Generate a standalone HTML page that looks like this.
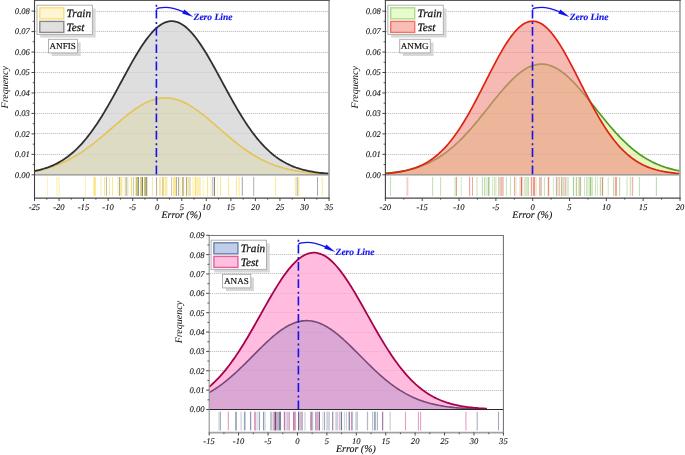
<!DOCTYPE html>
<html lang="en">
<head>
<meta charset="utf-8">
<title>Error distribution curves</title>
<style>
html,body{margin:0;padding:0;background:#fff;}
body{width:685px;height:455px;overflow:hidden;font-family:"Liberation Serif",serif;}
svg{display:block;will-change:transform;}
text{text-rendering:geometricPrecision;}
</style>
</head>
<body>
<svg width="685" height="455" viewBox="0 0 685 455">
<rect width="685" height="455" fill="#fff"/>
<g>
<line x1="35" y1="154.5" x2="329.05" y2="154.5" stroke="#ededed" stroke-width="1"/>
<line x1="35" y1="154.5" x2="329.05" y2="154.5" stroke="#c6c6c6" stroke-width="1" stroke-dasharray="1 1"/>
<line x1="35" y1="133.5" x2="329.05" y2="133.5" stroke="#ededed" stroke-width="1"/>
<line x1="35" y1="133.5" x2="329.05" y2="133.5" stroke="#c6c6c6" stroke-width="1" stroke-dasharray="1 1"/>
<line x1="35" y1="113.5" x2="329.05" y2="113.5" stroke="#ededed" stroke-width="1"/>
<line x1="35" y1="113.5" x2="329.05" y2="113.5" stroke="#c6c6c6" stroke-width="1" stroke-dasharray="1 1"/>
<line x1="35" y1="92.5" x2="329.05" y2="92.5" stroke="#ededed" stroke-width="1"/>
<line x1="35" y1="92.5" x2="329.05" y2="92.5" stroke="#c6c6c6" stroke-width="1" stroke-dasharray="1 1"/>
<line x1="35" y1="72.5" x2="329.05" y2="72.5" stroke="#ededed" stroke-width="1"/>
<line x1="35" y1="72.5" x2="329.05" y2="72.5" stroke="#c6c6c6" stroke-width="1" stroke-dasharray="1 1"/>
<line x1="35" y1="52.5" x2="329.05" y2="52.5" stroke="#ededed" stroke-width="1"/>
<line x1="35" y1="52.5" x2="329.05" y2="52.5" stroke="#c6c6c6" stroke-width="1" stroke-dasharray="1 1"/>
<line x1="35" y1="31.5" x2="329.05" y2="31.5" stroke="#ededed" stroke-width="1"/>
<line x1="35" y1="31.5" x2="329.05" y2="31.5" stroke="#c6c6c6" stroke-width="1" stroke-dasharray="1 1"/>
<line x1="35" y1="11.5" x2="329.05" y2="11.5" stroke="#ededed" stroke-width="1"/>
<line x1="35" y1="11.5" x2="329.05" y2="11.5" stroke="#c6c6c6" stroke-width="1" stroke-dasharray="1 1"/>
<path d="M34.5 174.8 L34.5 171.07 L36.34 170.68 L38.18 170.26 L40.02 169.8 L41.86 169.3 L43.7 168.76 L45.55 168.17 L47.39 167.54 L49.23 166.86 L51.07 166.12 L52.91 165.33 L54.75 164.49 L56.59 163.58 L58.43 162.61 L60.27 161.57 L62.11 160.46 L63.95 159.29 L65.8 158.03 L67.64 156.7 L69.48 155.29 L71.32 153.8 L73.16 152.23 L75 150.57 L76.84 148.82 L78.68 146.98 L80.52 145.05 L82.36 143.04 L84.21 140.93 L86.05 138.73 L87.89 136.43 L89.73 134.05 L91.57 131.58 L93.41 129.01 L95.25 126.36 L97.09 123.63 L98.93 120.81 L100.77 117.92 L102.61 114.95 L104.46 111.9 L106.3 108.8 L108.14 105.63 L109.98 102.4 L111.82 99.13 L113.66 95.82 L115.5 92.47 L117.34 89.09 L119.18 85.69 L121.02 82.29 L122.86 78.88 L124.71 75.48 L126.55 72.09 L128.39 68.73 L130.23 65.41 L132.07 62.14 L133.91 58.92 L135.75 55.77 L137.59 52.7 L139.43 49.72 L141.27 46.83 L143.12 44.06 L144.96 41.4 L146.8 38.87 L148.64 36.48 L150.48 34.23 L152.32 32.14 L154.16 30.21 L156 28.45 L157.84 26.87 L159.68 25.47 L161.52 24.26 L163.37 23.24 L165.21 22.42 L167.05 21.8 L168.89 21.39 L170.73 21.17 L172.57 21.17 L174.41 21.37 L176.25 21.77 L178.09 22.38 L179.93 23.18 L181.78 24.19 L183.62 25.39 L185.46 26.77 L187.3 28.34 L189.14 30.09 L190.98 32.01 L192.82 34.09 L194.66 36.32 L196.5 38.71 L198.34 41.23 L200.18 43.88 L202.03 46.64 L203.87 49.52 L205.71 52.5 L207.55 55.57 L209.39 58.71 L211.23 61.92 L213.07 65.19 L214.91 68.51 L216.75 71.87 L218.59 75.25 L220.43 78.65 L222.28 82.06 L224.12 85.47 L225.96 88.86 L227.8 92.24 L229.64 95.59 L231.48 98.91 L233.32 102.19 L235.16 105.41 L237 108.59 L238.84 111.7 L240.69 114.75 L242.53 117.72 L244.37 120.62 L246.21 123.44 L248.05 126.18 L249.89 128.84 L251.73 131.41 L253.57 133.89 L255.41 136.28 L257.25 138.58 L259.09 140.78 L260.94 142.9 L262.78 144.92 L264.62 146.86 L266.46 148.7 L268.3 150.45 L270.14 152.12 L271.98 153.7 L273.82 155.2 L275.66 156.61 L277.5 157.95 L279.34 159.2 L281.19 160.39 L283.03 161.5 L284.87 162.54 L286.71 163.52 L288.55 164.43 L290.39 165.28 L292.23 166.07 L294.07 166.81 L295.91 167.5 L297.75 168.13 L299.6 168.72 L301.44 169.26 L303.28 169.76 L305.12 170.23 L306.96 170.65 L308.8 171.04 L310.64 171.4 L312.48 171.73 L314.32 172.03 L316.16 172.31 L318 172.56 L319.85 172.78 L321.69 172.99 L323.53 173.18 L325.37 173.35 L327.21 173.5 L329.05 173.64 L329.05 174.8 Z" fill="rgba(211,211,211,0.75)" stroke="none"/>
<path d="M34.5 174.8 L34.5 170.93 L36.34 170.59 L38.18 170.23 L40.02 169.84 L41.86 169.43 L43.7 168.99 L45.55 168.52 L47.39 168.02 L49.23 167.49 L51.07 166.93 L52.91 166.33 L54.75 165.71 L56.59 165.04 L58.43 164.34 L60.27 163.6 L62.11 162.83 L63.95 162.01 L65.8 161.16 L67.64 160.27 L69.48 159.34 L71.32 158.36 L73.16 157.35 L75 156.29 L76.84 155.2 L78.68 154.06 L80.52 152.89 L82.36 151.67 L84.21 150.42 L86.05 149.13 L87.89 147.81 L89.73 146.44 L91.57 145.05 L93.41 143.62 L95.25 142.17 L97.09 140.68 L98.93 139.17 L100.77 137.64 L102.61 136.09 L104.46 134.52 L106.3 132.94 L108.14 131.35 L109.98 129.74 L111.82 128.14 L113.66 126.54 L115.5 124.93 L117.34 123.34 L119.18 121.76 L121.02 120.2 L122.86 118.65 L124.71 117.13 L126.55 115.64 L128.39 114.18 L130.23 112.76 L132.07 111.38 L133.91 110.05 L135.75 108.77 L137.59 107.54 L139.43 106.37 L141.27 105.26 L143.12 104.22 L144.96 103.25 L146.8 102.35 L148.64 101.52 L150.48 100.78 L152.32 100.11 L154.16 99.53 L156 99.03 L157.84 98.62 L159.68 98.3 L161.52 98.06 L163.37 97.92 L165.21 97.87 L167.05 97.91 L168.89 98.04 L170.73 98.26 L172.57 98.57 L174.41 98.97 L176.25 99.46 L178.09 100.03 L179.93 100.68 L181.78 101.42 L183.62 102.23 L185.46 103.12 L187.3 104.09 L189.14 105.12 L190.98 106.22 L192.82 107.38 L194.66 108.6 L196.5 109.88 L198.34 111.2 L200.18 112.58 L202.03 113.99 L203.87 115.44 L205.71 116.93 L207.55 118.45 L209.39 119.99 L211.23 121.55 L213.07 123.13 L214.91 124.72 L216.75 126.32 L218.59 127.93 L220.43 129.53 L222.28 131.13 L224.12 132.73 L225.96 134.31 L227.8 135.88 L229.64 137.44 L231.48 138.97 L233.32 140.48 L235.16 141.97 L237 143.43 L238.84 144.86 L240.69 146.26 L242.53 147.63 L244.37 148.96 L246.21 150.25 L248.05 151.51 L249.89 152.73 L251.73 153.91 L253.57 155.05 L255.41 156.15 L257.25 157.21 L259.09 158.23 L260.94 159.21 L262.78 160.15 L264.62 161.04 L266.46 161.9 L268.3 162.72 L270.14 163.5 L271.98 164.24 L273.82 164.95 L275.66 165.62 L277.5 166.25 L279.34 166.85 L281.19 167.42 L283.03 167.95 L284.87 168.46 L286.71 168.93 L288.55 169.37 L290.39 169.79 L292.23 170.18 L294.07 170.54 L295.91 170.88 L297.75 171.2 L299.6 171.5 L301.44 171.77 L303.28 172.03 L305.12 172.26 L306.96 172.48 L308.8 172.69 L310.64 172.87 L312.48 173.05 L314.32 173.21 L316.16 173.35 L318 173.49 L319.85 173.61 L321.69 173.72 L323.53 173.83 L325.37 173.92 L327.21 174.01 L329.05 174.09 L329.05 174.8 Z" fill="rgba(222,212,140,0.30)" stroke="none"/>
<path d="M34.5 170.93 L36.34 170.59 L38.18 170.23 L40.02 169.84 L41.86 169.43 L43.7 168.99 L45.55 168.52 L47.39 168.02 L49.23 167.49 L51.07 166.93 L52.91 166.33 L54.75 165.71 L56.59 165.04 L58.43 164.34 L60.27 163.6 L62.11 162.83 L63.95 162.01 L65.8 161.16 L67.64 160.27 L69.48 159.34 L71.32 158.36 L73.16 157.35 L75 156.29 L76.84 155.2 L78.68 154.06 L80.52 152.89 L82.36 151.67 L84.21 150.42 L86.05 149.13 L87.89 147.81 L89.73 146.44 L91.57 145.05 L93.41 143.62 L95.25 142.17 L97.09 140.68 L98.93 139.17 L100.77 137.64 L102.61 136.09 L104.46 134.52 L106.3 132.94 L108.14 131.35 L109.98 129.74 L111.82 128.14 L113.66 126.54 L115.5 124.93 L117.34 123.34 L119.18 121.76 L121.02 120.2 L122.86 118.65 L124.71 117.13 L126.55 115.64 L128.39 114.18 L130.23 112.76 L132.07 111.38 L133.91 110.05 L135.75 108.77 L137.59 107.54 L139.43 106.37 L141.27 105.26 L143.12 104.22 L144.96 103.25 L146.8 102.35 L148.64 101.52 L150.48 100.78 L152.32 100.11 L154.16 99.53 L156 99.03 L157.84 98.62 L159.68 98.3 L161.52 98.06 L163.37 97.92 L165.21 97.87 L167.05 97.91 L168.89 98.04 L170.73 98.26 L172.57 98.57 L174.41 98.97 L176.25 99.46 L178.09 100.03 L179.93 100.68 L181.78 101.42 L183.62 102.23 L185.46 103.12 L187.3 104.09 L189.14 105.12 L190.98 106.22 L192.82 107.38 L194.66 108.6 L196.5 109.88 L198.34 111.2 L200.18 112.58 L202.03 113.99 L203.87 115.44 L205.71 116.93 L207.55 118.45 L209.39 119.99 L211.23 121.55 L213.07 123.13 L214.91 124.72 L216.75 126.32 L218.59 127.93 L220.43 129.53 L222.28 131.13 L224.12 132.73 L225.96 134.31 L227.8 135.88 L229.64 137.44 L231.48 138.97 L233.32 140.48 L235.16 141.97 L237 143.43 L238.84 144.86 L240.69 146.26 L242.53 147.63 L244.37 148.96 L246.21 150.25 L248.05 151.51 L249.89 152.73 L251.73 153.91 L253.57 155.05 L255.41 156.15 L257.25 157.21 L259.09 158.23 L260.94 159.21 L262.78 160.15 L264.62 161.04 L266.46 161.9 L268.3 162.72 L270.14 163.5 L271.98 164.24 L273.82 164.95 L275.66 165.62 L277.5 166.25 L279.34 166.85 L281.19 167.42 L283.03 167.95 L284.87 168.46 L286.71 168.93 L288.55 169.37 L290.39 169.79 L292.23 170.18 L294.07 170.54 L295.91 170.88 L297.75 171.2 L299.6 171.5 L301.44 171.77 L303.28 172.03 L305.12 172.26 L306.96 172.48 L308.8 172.69 L310.64 172.87 L312.48 173.05 L314.32 173.21 L316.16 173.35 L318 173.49 L319.85 173.61 L321.69 173.72 L323.53 173.83 L325.37 173.92 L327.21 174.01 L329.05 174.09" fill="none" stroke="#e3c55a" stroke-width="1.7" stroke-linejoin="round"/>
<path d="M34.5 171.07 L36.34 170.68 L38.18 170.26 L40.02 169.8 L41.86 169.3 L43.7 168.76 L45.55 168.17 L47.39 167.54 L49.23 166.86 L51.07 166.12 L52.91 165.33 L54.75 164.49 L56.59 163.58 L58.43 162.61 L60.27 161.57 L62.11 160.46 L63.95 159.29 L65.8 158.03 L67.64 156.7 L69.48 155.29 L71.32 153.8 L73.16 152.23 L75 150.57 L76.84 148.82 L78.68 146.98 L80.52 145.05 L82.36 143.04 L84.21 140.93 L86.05 138.73 L87.89 136.43 L89.73 134.05 L91.57 131.58 L93.41 129.01 L95.25 126.36 L97.09 123.63 L98.93 120.81 L100.77 117.92 L102.61 114.95 L104.46 111.9 L106.3 108.8 L108.14 105.63 L109.98 102.4 L111.82 99.13 L113.66 95.82 L115.5 92.47 L117.34 89.09 L119.18 85.69 L121.02 82.29 L122.86 78.88 L124.71 75.48 L126.55 72.09 L128.39 68.73 L130.23 65.41 L132.07 62.14 L133.91 58.92 L135.75 55.77 L137.59 52.7 L139.43 49.72 L141.27 46.83 L143.12 44.06 L144.96 41.4 L146.8 38.87 L148.64 36.48 L150.48 34.23 L152.32 32.14 L154.16 30.21 L156 28.45 L157.84 26.87 L159.68 25.47 L161.52 24.26 L163.37 23.24 L165.21 22.42 L167.05 21.8 L168.89 21.39 L170.73 21.17 L172.57 21.17 L174.41 21.37 L176.25 21.77 L178.09 22.38 L179.93 23.18 L181.78 24.19 L183.62 25.39 L185.46 26.77 L187.3 28.34 L189.14 30.09 L190.98 32.01 L192.82 34.09 L194.66 36.32 L196.5 38.71 L198.34 41.23 L200.18 43.88 L202.03 46.64 L203.87 49.52 L205.71 52.5 L207.55 55.57 L209.39 58.71 L211.23 61.92 L213.07 65.19 L214.91 68.51 L216.75 71.87 L218.59 75.25 L220.43 78.65 L222.28 82.06 L224.12 85.47 L225.96 88.86 L227.8 92.24 L229.64 95.59 L231.48 98.91 L233.32 102.19 L235.16 105.41 L237 108.59 L238.84 111.7 L240.69 114.75 L242.53 117.72 L244.37 120.62 L246.21 123.44 L248.05 126.18 L249.89 128.84 L251.73 131.41 L253.57 133.89 L255.41 136.28 L257.25 138.58 L259.09 140.78 L260.94 142.9 L262.78 144.92 L264.62 146.86 L266.46 148.7 L268.3 150.45 L270.14 152.12 L271.98 153.7 L273.82 155.2 L275.66 156.61 L277.5 157.95 L279.34 159.2 L281.19 160.39 L283.03 161.5 L284.87 162.54 L286.71 163.52 L288.55 164.43 L290.39 165.28 L292.23 166.07 L294.07 166.81 L295.91 167.5 L297.75 168.13 L299.6 168.72 L301.44 169.26 L303.28 169.76 L305.12 170.23 L306.96 170.65 L308.8 171.04 L310.64 171.4 L312.48 171.73 L314.32 172.03 L316.16 172.31 L318 172.56 L319.85 172.78 L321.69 172.99 L323.53 173.18 L325.37 173.35 L327.21 173.5 L329.05 173.64" fill="none" stroke="#303030" stroke-width="1.8" stroke-linejoin="round"/>
<line x1="34.5" y1="174.8" x2="329.05" y2="174.8" stroke="#8c8c8c" stroke-width="1.3"/>
<line x1="47.5" y1="177" x2="47.5" y2="195.9" stroke="#fdf2bf" stroke-width="1.1" opacity="1"/>
<line x1="57" y1="177" x2="57" y2="195.9" stroke="#fdf2bf" stroke-width="1.4" opacity="1"/>
<line x1="59.2" y1="177" x2="59.2" y2="195.9" stroke="#fdf2bf" stroke-width="1.4" opacity="1"/>
<line x1="85.5" y1="177" x2="85.5" y2="195.9" stroke="#fdf2bf" stroke-width="1.1" opacity="1"/>
<line x1="94.6" y1="177" x2="94.6" y2="195.9" stroke="#fce88e" stroke-width="2.5" opacity="1"/>
<line x1="94.6" y1="177" x2="94.6" y2="195.9" stroke="#fbdf72" stroke-width="1.0" opacity="0.6"/>
<line x1="101" y1="177" x2="101" y2="195.9" stroke="#fdf2bf" stroke-width="1.5" opacity="1"/>
<line x1="104.5" y1="177" x2="104.5" y2="195.9" stroke="#fce88e" stroke-width="1.0" opacity="1"/>
<line x1="106.4" y1="177" x2="106.4" y2="195.9" stroke="#acacac" stroke-width="0.9" opacity="1"/>
<line x1="109.4" y1="177" x2="109.4" y2="195.9" stroke="#fce88e" stroke-width="1.0" opacity="1"/>
<line x1="112.5" y1="177" x2="112.5" y2="195.9" stroke="#fce88e" stroke-width="1.0" opacity="1"/>
<line x1="118" y1="177" x2="118" y2="195.9" stroke="#fdf2bf" stroke-width="1.5" opacity="1"/>
<line x1="119.5" y1="177" x2="119.5" y2="195.9" stroke="#a2a2a2" stroke-width="0.9" opacity="1"/>
<line x1="121.3" y1="177" x2="121.3" y2="195.9" stroke="#fce88e" stroke-width="2.3" opacity="1"/>
<line x1="124.6" y1="177" x2="124.6" y2="195.9" stroke="#fdf2bf" stroke-width="1.2" opacity="1"/>
<line x1="126.2" y1="177" x2="126.2" y2="195.9" stroke="#c6c6c6" stroke-width="1.8" opacity="1"/>
<line x1="127.8" y1="177" x2="127.8" y2="195.9" stroke="#e6e2b4" stroke-width="1.2" opacity="1"/>
<line x1="131.5" y1="177" x2="131.5" y2="195.9" stroke="#fbdf72" stroke-width="1.4" opacity="1"/>
<line x1="133.5" y1="177" x2="133.5" y2="195.9" stroke="#cacaca" stroke-width="1.1" opacity="1"/>
<line x1="136.8" y1="177" x2="136.8" y2="195.9" stroke="#cbc265" stroke-width="2.3" opacity="1"/>
<line x1="138.5" y1="177" x2="138.5" y2="195.9" stroke="#929292" stroke-width="1.0" opacity="1"/>
<line x1="140.9" y1="177" x2="140.9" y2="195.9" stroke="#dad292" stroke-width="1.8" opacity="1"/>
<line x1="142.4" y1="177" x2="142.4" y2="195.9" stroke="#8c8644" stroke-width="1.2" opacity="1"/>
<line x1="145.2" y1="177" x2="145.2" y2="195.9" stroke="#c0b868" stroke-width="2.0" opacity="1"/>
<line x1="146.4" y1="177" x2="146.4" y2="195.9" stroke="#8e8a58" stroke-width="0.9" opacity="1"/>
<line x1="146.9" y1="177" x2="146.9" y2="195.9" stroke="#9a9a9a" stroke-width="0.7" opacity="1"/>
<line x1="152.4" y1="177" x2="152.4" y2="195.9" stroke="#fce88e" stroke-width="1.0" opacity="1"/>
<line x1="156.6" y1="177" x2="156.6" y2="195.9" stroke="#a0a0a0" stroke-width="0.9" opacity="1"/>
<line x1="160" y1="177" x2="160" y2="195.9" stroke="#fce88e" stroke-width="1.7" opacity="1"/>
<line x1="162.9" y1="177" x2="162.9" y2="195.9" stroke="#d6ca84" stroke-width="1.6" opacity="1"/>
<line x1="166" y1="177" x2="166" y2="195.9" stroke="#fce88e" stroke-width="2.9" opacity="0.85"/>
<line x1="171.6" y1="177" x2="171.6" y2="195.9" stroke="#c4c4c4" stroke-width="1.0" opacity="1"/>
<line x1="174.5" y1="177" x2="174.5" y2="195.9" stroke="#fce88e" stroke-width="3.0" opacity="1"/>
<line x1="176.5" y1="177" x2="176.5" y2="195.9" stroke="#a4a4a4" stroke-width="0.9" opacity="1"/>
<line x1="178.5" y1="177" x2="178.5" y2="195.9" stroke="#a4a4a4" stroke-width="0.9" opacity="1"/>
<line x1="180" y1="177" x2="180" y2="195.9" stroke="#fdf2bf" stroke-width="1.8" opacity="1"/>
<line x1="182.6" y1="177" x2="182.6" y2="195.9" stroke="#ccc078" stroke-width="1.4" opacity="1"/>
<line x1="183.6" y1="177" x2="183.6" y2="195.9" stroke="#9c9c9c" stroke-width="0.6" opacity="1"/>
<line x1="186.5" y1="177" x2="186.5" y2="195.9" stroke="#b4ac78" stroke-width="1.0" opacity="1"/>
<line x1="188.2" y1="177" x2="188.2" y2="195.9" stroke="#fce88e" stroke-width="1.8" opacity="1"/>
<line x1="190" y1="177" x2="190" y2="195.9" stroke="#d2d2d2" stroke-width="1.4" opacity="1"/>
<line x1="193.1" y1="177" x2="193.1" y2="195.9" stroke="#fdf2bf" stroke-width="1.5" opacity="1"/>
<line x1="195.5" y1="177" x2="195.5" y2="195.9" stroke="#fbdf72" stroke-width="1.4" opacity="1"/>
<line x1="198.6" y1="177" x2="198.6" y2="195.9" stroke="#fdf2bf" stroke-width="4.6" opacity="1"/>
<line x1="197.2" y1="177" x2="197.2" y2="195.9" stroke="#fce88e" stroke-width="0.9" opacity="0.6"/>
<line x1="199.8" y1="177" x2="199.8" y2="195.9" stroke="#fce88e" stroke-width="0.9" opacity="0.6"/>
<line x1="203.2" y1="177" x2="203.2" y2="195.9" stroke="#fdf2bf" stroke-width="1.1" opacity="1"/>
<line x1="207.6" y1="177" x2="207.6" y2="195.9" stroke="#fce88e" stroke-width="1.2" opacity="1"/>
<line x1="211" y1="177" x2="211" y2="195.9" stroke="#fdf2bf" stroke-width="1.3" opacity="1"/>
<line x1="212.8" y1="177" x2="212.8" y2="195.9" stroke="#c6c6c6" stroke-width="1.4" opacity="1"/>
<line x1="214.5" y1="177" x2="214.5" y2="195.9" stroke="#7c7c7c" stroke-width="0.9" opacity="1"/>
<line x1="217.6" y1="177" x2="217.6" y2="195.9" stroke="#fdf2bf" stroke-width="1.1" opacity="1"/>
<line x1="220.5" y1="177" x2="220.5" y2="195.9" stroke="#fce88e" stroke-width="1.0" opacity="1"/>
<line x1="228.6" y1="177" x2="228.6" y2="195.9" stroke="#fce88e" stroke-width="1.0" opacity="1"/>
<line x1="236.4" y1="177" x2="236.4" y2="195.9" stroke="#fce88e" stroke-width="1.0" opacity="1"/>
<line x1="239.2" y1="177" x2="239.2" y2="195.9" stroke="#fce88e" stroke-width="1.0" opacity="1"/>
<line x1="242.3" y1="177" x2="242.3" y2="195.9" stroke="#9a9a9a" stroke-width="0.9" opacity="1"/>
<line x1="253.7" y1="177" x2="253.7" y2="195.9" stroke="#a8a8a8" stroke-width="0.9" opacity="1"/>
<line x1="275.6" y1="177" x2="275.6" y2="195.9" stroke="#fce88e" stroke-width="1.0" opacity="1"/>
<line x1="295.3" y1="177" x2="295.3" y2="195.9" stroke="#fce88e" stroke-width="1.0" opacity="1"/>
<line x1="297.2" y1="177" x2="297.2" y2="195.9" stroke="#a0a0a0" stroke-width="0.9" opacity="1"/>
<line x1="298.8" y1="177" x2="298.8" y2="195.9" stroke="#fce88e" stroke-width="1.3" opacity="1"/>
<line x1="317.5" y1="177" x2="317.5" y2="195.9" stroke="#a0a0a0" stroke-width="0.9" opacity="1"/>
<line x1="322.2" y1="177" x2="322.2" y2="195.9" stroke="#fce88e" stroke-width="1.0" opacity="1"/>
<line x1="156.4" y1="4.8" x2="156.4" y2="174.2" stroke="#1212ee" stroke-width="1.6" stroke-dasharray="2 2.9 8.8 3.6"/>
<path d="M156.4 9.2 C158 7.7 161.4 7.4 165.4 7.4 C171.4 7.4 177.4 9.4 183.6 11.8" fill="none" stroke="#1212ee" stroke-width="1.25"/>
<path d="M193.4 17.1 L184.3 9.5 L182.1 13.6 Z" fill="#1212ee"/>
<text x="193.6" y="19.5" font-family="'Liberation Serif','Times New Roman',serif" font-size="9.5" font-style="italic" font-weight="bold" fill="#1212ee" stroke="#1212ee" stroke-width="0.15">Zero Line</text>
<line x1="329.05" y1="0.5" x2="329.05" y2="198.6" stroke="#a4a4a4" stroke-width="1.7"/>
<line x1="34" y1="0.5" x2="329.9" y2="0.5" stroke="#5a5a5a" stroke-width="1.0"/>
<line x1="34.5" y1="-0.1" x2="34.5" y2="198.6" stroke="#404040" stroke-width="1.1"/>
<line x1="34" y1="198.1" x2="329.65" y2="198.1" stroke="#484848" stroke-width="1.2"/>
<line x1="31.5" y1="174.8" x2="34.5" y2="174.8" stroke="#333" stroke-width="0.9"/>
<text x="29.9" y="177.7" text-anchor="end" font-family="'Liberation Serif','Times New Roman',serif" font-size="8.6" font-style="italic" fill="#111" stroke="#111" stroke-width="0.1">0.00</text>
<line x1="32.7" y1="164.57" x2="34.5" y2="164.57" stroke="#333" stroke-width="0.8"/>
<line x1="31.5" y1="154.34" x2="34.5" y2="154.34" stroke="#333" stroke-width="0.9"/>
<text x="29.9" y="157.24" text-anchor="end" font-family="'Liberation Serif','Times New Roman',serif" font-size="8.6" font-style="italic" fill="#111" stroke="#111" stroke-width="0.1">0.01</text>
<line x1="32.7" y1="144.11" x2="34.5" y2="144.11" stroke="#333" stroke-width="0.8"/>
<line x1="31.5" y1="133.88" x2="34.5" y2="133.88" stroke="#333" stroke-width="0.9"/>
<text x="29.9" y="136.78" text-anchor="end" font-family="'Liberation Serif','Times New Roman',serif" font-size="8.6" font-style="italic" fill="#111" stroke="#111" stroke-width="0.1">0.02</text>
<line x1="32.7" y1="123.65" x2="34.5" y2="123.65" stroke="#333" stroke-width="0.8"/>
<line x1="31.5" y1="113.42" x2="34.5" y2="113.42" stroke="#333" stroke-width="0.9"/>
<text x="29.9" y="116.32" text-anchor="end" font-family="'Liberation Serif','Times New Roman',serif" font-size="8.6" font-style="italic" fill="#111" stroke="#111" stroke-width="0.1">0.03</text>
<line x1="32.7" y1="103.19" x2="34.5" y2="103.19" stroke="#333" stroke-width="0.8"/>
<line x1="31.5" y1="92.96" x2="34.5" y2="92.96" stroke="#333" stroke-width="0.9"/>
<text x="29.9" y="95.86" text-anchor="end" font-family="'Liberation Serif','Times New Roman',serif" font-size="8.6" font-style="italic" fill="#111" stroke="#111" stroke-width="0.1">0.04</text>
<line x1="32.7" y1="82.73" x2="34.5" y2="82.73" stroke="#333" stroke-width="0.8"/>
<line x1="31.5" y1="72.5" x2="34.5" y2="72.5" stroke="#333" stroke-width="0.9"/>
<text x="29.9" y="75.4" text-anchor="end" font-family="'Liberation Serif','Times New Roman',serif" font-size="8.6" font-style="italic" fill="#111" stroke="#111" stroke-width="0.1">0.05</text>
<line x1="32.7" y1="62.27" x2="34.5" y2="62.27" stroke="#333" stroke-width="0.8"/>
<line x1="31.5" y1="52.04" x2="34.5" y2="52.04" stroke="#333" stroke-width="0.9"/>
<text x="29.9" y="54.94" text-anchor="end" font-family="'Liberation Serif','Times New Roman',serif" font-size="8.6" font-style="italic" fill="#111" stroke="#111" stroke-width="0.1">0.06</text>
<line x1="32.7" y1="41.81" x2="34.5" y2="41.81" stroke="#333" stroke-width="0.8"/>
<line x1="31.5" y1="31.58" x2="34.5" y2="31.58" stroke="#333" stroke-width="0.9"/>
<text x="29.9" y="34.48" text-anchor="end" font-family="'Liberation Serif','Times New Roman',serif" font-size="8.6" font-style="italic" fill="#111" stroke="#111" stroke-width="0.1">0.07</text>
<line x1="32.7" y1="21.35" x2="34.5" y2="21.35" stroke="#333" stroke-width="0.8"/>
<line x1="31.5" y1="11.12" x2="34.5" y2="11.12" stroke="#333" stroke-width="0.9"/>
<text x="29.9" y="14.02" text-anchor="end" font-family="'Liberation Serif','Times New Roman',serif" font-size="8.6" font-style="italic" fill="#111" stroke="#111" stroke-width="0.1">0.08</text>
<line x1="34.5" y1="198.1" x2="34.5" y2="201" stroke="#333" stroke-width="0.9"/>
<text x="34.4" y="209.6" text-anchor="middle" font-family="'Liberation Serif','Times New Roman',serif" font-size="8.6" font-style="italic" fill="#111" stroke="#111" stroke-width="0.1">-25</text>
<line x1="46.77" y1="198.1" x2="46.77" y2="199.7" stroke="#333" stroke-width="0.8"/>
<line x1="59.05" y1="198.1" x2="59.05" y2="201" stroke="#333" stroke-width="0.9"/>
<text x="58.95" y="209.6" text-anchor="middle" font-family="'Liberation Serif','Times New Roman',serif" font-size="8.6" font-style="italic" fill="#111" stroke="#111" stroke-width="0.1">-20</text>
<line x1="71.32" y1="198.1" x2="71.32" y2="199.7" stroke="#333" stroke-width="0.8"/>
<line x1="83.59" y1="198.1" x2="83.59" y2="201" stroke="#333" stroke-width="0.9"/>
<text x="83.49" y="209.6" text-anchor="middle" font-family="'Liberation Serif','Times New Roman',serif" font-size="8.6" font-style="italic" fill="#111" stroke="#111" stroke-width="0.1">-15</text>
<line x1="95.86" y1="198.1" x2="95.86" y2="199.7" stroke="#333" stroke-width="0.8"/>
<line x1="108.14" y1="198.1" x2="108.14" y2="201" stroke="#333" stroke-width="0.9"/>
<text x="108.04" y="209.6" text-anchor="middle" font-family="'Liberation Serif','Times New Roman',serif" font-size="8.6" font-style="italic" fill="#111" stroke="#111" stroke-width="0.1">-10</text>
<line x1="120.41" y1="198.1" x2="120.41" y2="199.7" stroke="#333" stroke-width="0.8"/>
<line x1="132.68" y1="198.1" x2="132.68" y2="201" stroke="#333" stroke-width="0.9"/>
<text x="132.58" y="209.6" text-anchor="middle" font-family="'Liberation Serif','Times New Roman',serif" font-size="8.6" font-style="italic" fill="#111" stroke="#111" stroke-width="0.1">-5</text>
<line x1="144.96" y1="198.1" x2="144.96" y2="199.7" stroke="#333" stroke-width="0.8"/>
<line x1="157.23" y1="198.1" x2="157.23" y2="201" stroke="#333" stroke-width="0.9"/>
<text x="157.23" y="209.6" text-anchor="middle" font-family="'Liberation Serif','Times New Roman',serif" font-size="8.6" font-style="italic" fill="#111" stroke="#111" stroke-width="0.1">0</text>
<line x1="169.5" y1="198.1" x2="169.5" y2="199.7" stroke="#333" stroke-width="0.8"/>
<line x1="181.78" y1="198.1" x2="181.78" y2="201" stroke="#333" stroke-width="0.9"/>
<text x="181.78" y="209.6" text-anchor="middle" font-family="'Liberation Serif','Times New Roman',serif" font-size="8.6" font-style="italic" fill="#111" stroke="#111" stroke-width="0.1">5</text>
<line x1="194.05" y1="198.1" x2="194.05" y2="199.7" stroke="#333" stroke-width="0.8"/>
<line x1="206.32" y1="198.1" x2="206.32" y2="201" stroke="#333" stroke-width="0.9"/>
<text x="206.32" y="209.6" text-anchor="middle" font-family="'Liberation Serif','Times New Roman',serif" font-size="8.6" font-style="italic" fill="#111" stroke="#111" stroke-width="0.1">10</text>
<line x1="218.59" y1="198.1" x2="218.59" y2="199.7" stroke="#333" stroke-width="0.8"/>
<line x1="230.87" y1="198.1" x2="230.87" y2="201" stroke="#333" stroke-width="0.9"/>
<text x="230.87" y="209.6" text-anchor="middle" font-family="'Liberation Serif','Times New Roman',serif" font-size="8.6" font-style="italic" fill="#111" stroke="#111" stroke-width="0.1">15</text>
<line x1="243.14" y1="198.1" x2="243.14" y2="199.7" stroke="#333" stroke-width="0.8"/>
<line x1="255.41" y1="198.1" x2="255.41" y2="201" stroke="#333" stroke-width="0.9"/>
<text x="255.41" y="209.6" text-anchor="middle" font-family="'Liberation Serif','Times New Roman',serif" font-size="8.6" font-style="italic" fill="#111" stroke="#111" stroke-width="0.1">20</text>
<line x1="267.69" y1="198.1" x2="267.69" y2="199.7" stroke="#333" stroke-width="0.8"/>
<line x1="279.96" y1="198.1" x2="279.96" y2="201" stroke="#333" stroke-width="0.9"/>
<text x="279.96" y="209.6" text-anchor="middle" font-family="'Liberation Serif','Times New Roman',serif" font-size="8.6" font-style="italic" fill="#111" stroke="#111" stroke-width="0.1">25</text>
<line x1="292.23" y1="198.1" x2="292.23" y2="199.7" stroke="#333" stroke-width="0.8"/>
<line x1="304.5" y1="198.1" x2="304.5" y2="201" stroke="#333" stroke-width="0.9"/>
<text x="304.5" y="209.6" text-anchor="middle" font-family="'Liberation Serif','Times New Roman',serif" font-size="8.6" font-style="italic" fill="#111" stroke="#111" stroke-width="0.1">30</text>
<line x1="316.78" y1="198.1" x2="316.78" y2="199.7" stroke="#333" stroke-width="0.8"/>
<line x1="329.05" y1="198.1" x2="329.05" y2="201" stroke="#333" stroke-width="0.9"/>
<text x="329.05" y="209.6" text-anchor="middle" font-family="'Liberation Serif','Times New Roman',serif" font-size="8.6" font-style="italic" fill="#111" stroke="#111" stroke-width="0.1">35</text>
<text x="181.38" y="217.55" text-anchor="middle" font-family="'Liberation Serif','Times New Roman',serif" font-size="10" font-style="italic" fill="#111" stroke="#111" stroke-width="0.12">Error (%)</text>
<text transform="translate(7.5 87.25) rotate(-90)" text-anchor="middle" font-family="'Liberation Serif','Times New Roman',serif" font-size="10" font-style="italic" fill="#111">Frequency</text>
<path d="M92.4 8.4 h3.2 v29.2 h-55.4 v-3.2 h52.2 Z" fill="#d8d8d8"/>
<rect x="37" y="5.2" width="55.4" height="29.2" fill="rgba(255,255,255,0.78)" stroke="#a9a9a9" stroke-width="0.9"/>
<rect x="39.8" y="7.8" width="24.0" height="11.0" fill="#fdf4cf" fill-opacity="0.9" stroke="#fbdf78" stroke-width="1.4"/>
<rect x="39.8" y="21.4" width="24.0" height="11.0" fill="#dddddd" fill-opacity="0.9" stroke="#8a8a8a" stroke-width="1.4"/>
<text x="66.6" y="16.6" font-family="'Liberation Serif','Times New Roman',serif" font-size="11.3" font-style="italic" fill="#111" stroke="#111" stroke-width="0.25">Train</text>
<text x="66.6" y="30.5" font-family="'Liberation Serif','Times New Roman',serif" font-size="11.3" font-style="italic" fill="#111" stroke="#111" stroke-width="0.25">Test</text>
<path d="M77.5 42.5 h3.2 v13.6 h-29 v-3.2 h25.8 Z" fill="#d8d8d8"/>
<rect x="48.5" y="39.3" width="29" height="13.6" fill="rgba(255,255,255,0.8)" stroke="#a9a9a9" stroke-width="0.9"/>
<text x="62.7" y="49.4" text-anchor="middle" font-family="'Liberation Serif','Times New Roman',serif" font-size="9.1" fill="#111" stroke="#111" stroke-width="0.16">ANFIS</text>
</g>
<g>
<line x1="386" y1="154.5" x2="680" y2="154.5" stroke="#ededed" stroke-width="1"/>
<line x1="386" y1="154.5" x2="680" y2="154.5" stroke="#c6c6c6" stroke-width="1" stroke-dasharray="1 1"/>
<line x1="386" y1="133.5" x2="680" y2="133.5" stroke="#ededed" stroke-width="1"/>
<line x1="386" y1="133.5" x2="680" y2="133.5" stroke="#c6c6c6" stroke-width="1" stroke-dasharray="1 1"/>
<line x1="386" y1="113.5" x2="680" y2="113.5" stroke="#ededed" stroke-width="1"/>
<line x1="386" y1="113.5" x2="680" y2="113.5" stroke="#c6c6c6" stroke-width="1" stroke-dasharray="1 1"/>
<line x1="386" y1="92.5" x2="680" y2="92.5" stroke="#ededed" stroke-width="1"/>
<line x1="386" y1="92.5" x2="680" y2="92.5" stroke="#c6c6c6" stroke-width="1" stroke-dasharray="1 1"/>
<line x1="386" y1="72.5" x2="680" y2="72.5" stroke="#ededed" stroke-width="1"/>
<line x1="386" y1="72.5" x2="680" y2="72.5" stroke="#c6c6c6" stroke-width="1" stroke-dasharray="1 1"/>
<line x1="386" y1="52.5" x2="680" y2="52.5" stroke="#ededed" stroke-width="1"/>
<line x1="386" y1="52.5" x2="680" y2="52.5" stroke="#c6c6c6" stroke-width="1" stroke-dasharray="1 1"/>
<line x1="386" y1="31.5" x2="680" y2="31.5" stroke="#ededed" stroke-width="1"/>
<line x1="386" y1="31.5" x2="680" y2="31.5" stroke="#c6c6c6" stroke-width="1" stroke-dasharray="1 1"/>
<line x1="386" y1="11.5" x2="680" y2="11.5" stroke="#ededed" stroke-width="1"/>
<line x1="386" y1="11.5" x2="680" y2="11.5" stroke="#c6c6c6" stroke-width="1" stroke-dasharray="1 1"/>
<path d="M385.4 174.8 L385.4 173.26 L387.24 173.1 L389.08 172.92 L390.92 172.73 L392.76 172.52 L394.61 172.29 L396.45 172.04 L398.29 171.77 L400.13 171.48 L401.97 171.16 L403.81 170.82 L405.65 170.46 L407.5 170.06 L409.34 169.64 L411.18 169.18 L413.02 168.69 L414.86 168.16 L416.7 167.6 L418.54 167 L420.38 166.36 L422.22 165.68 L424.07 164.96 L425.91 164.19 L427.75 163.37 L429.59 162.51 L431.43 161.59 L433.27 160.63 L435.11 159.61 L436.95 158.54 L438.8 157.42 L440.64 156.23 L442.48 155 L444.32 153.7 L446.16 152.35 L448 150.93 L449.84 149.46 L451.68 147.93 L453.53 146.35 L455.37 144.7 L457.21 143 L459.05 141.24 L460.89 139.42 L462.73 137.55 L464.57 135.63 L466.41 133.66 L468.26 131.64 L470.1 129.57 L471.94 127.47 L473.78 125.32 L475.62 123.14 L477.46 120.92 L479.3 118.68 L481.14 116.41 L482.99 114.13 L484.83 111.83 L486.67 109.52 L488.51 107.2 L490.35 104.89 L492.19 102.58 L494.03 100.29 L495.88 98.01 L497.72 95.76 L499.56 93.54 L501.4 91.36 L503.24 89.22 L505.08 87.12 L506.92 85.09 L508.76 83.12 L510.6 81.21 L512.45 79.38 L514.29 77.63 L516.13 75.96 L517.97 74.38 L519.81 72.91 L521.65 71.53 L523.49 70.25 L525.34 69.09 L527.18 68.04 L529.02 67.11 L530.86 66.3 L532.7 65.62 L534.54 65.06 L536.38 64.63 L538.22 64.32 L540.06 64.15 L541.91 64.11 L543.75 64.21 L545.59 64.43 L547.43 64.78 L549.27 65.27 L551.11 65.88 L552.95 66.61 L554.79 67.47 L556.64 68.45 L558.48 69.54 L560.32 70.75 L562.16 72.07 L564 73.49 L565.84 75 L567.68 76.62 L569.52 78.32 L571.37 80.1 L573.21 81.96 L575.05 83.9 L576.89 85.9 L578.73 87.95 L580.57 90.07 L582.41 92.22 L584.25 94.42 L586.1 96.66 L587.94 98.92 L589.78 101.2 L591.62 103.5 L593.46 105.81 L595.3 108.13 L597.14 110.44 L598.99 112.75 L600.83 115.04 L602.67 117.32 L604.51 119.58 L606.35 121.81 L608.19 124.01 L610.03 126.18 L611.87 128.31 L613.71 130.4 L615.56 132.45 L617.4 134.45 L619.24 136.4 L621.08 138.3 L622.92 140.15 L624.76 141.95 L626.6 143.68 L628.44 145.36 L630.29 146.99 L632.13 148.55 L633.97 150.06 L635.81 151.51 L637.65 152.89 L639.49 154.23 L641.33 155.5 L643.17 156.71 L645.02 157.87 L646.86 158.98 L648.7 160.03 L650.54 161.02 L652.38 161.97 L654.22 162.86 L656.06 163.7 L657.9 164.5 L659.75 165.25 L661.59 165.96 L663.43 166.62 L665.27 167.25 L667.11 167.83 L668.95 168.38 L670.79 168.89 L672.63 169.37 L674.48 169.81 L676.32 170.22 L678.16 170.61 L680 170.96 L680 174.8 Z" fill="rgba(213,240,147,0.6)" stroke="none"/>
<path d="M385.4 173.26 L387.24 173.1 L389.08 172.92 L390.92 172.73 L392.76 172.52 L394.61 172.29 L396.45 172.04 L398.29 171.77 L400.13 171.48 L401.97 171.16 L403.81 170.82 L405.65 170.46 L407.5 170.06 L409.34 169.64 L411.18 169.18 L413.02 168.69 L414.86 168.16 L416.7 167.6 L418.54 167 L420.38 166.36 L422.22 165.68 L424.07 164.96 L425.91 164.19 L427.75 163.37 L429.59 162.51 L431.43 161.59 L433.27 160.63 L435.11 159.61 L436.95 158.54 L438.8 157.42 L440.64 156.23 L442.48 155 L444.32 153.7 L446.16 152.35 L448 150.93 L449.84 149.46 L451.68 147.93 L453.53 146.35 L455.37 144.7 L457.21 143 L459.05 141.24 L460.89 139.42 L462.73 137.55 L464.57 135.63 L466.41 133.66 L468.26 131.64 L470.1 129.57 L471.94 127.47 L473.78 125.32 L475.62 123.14 L477.46 120.92 L479.3 118.68 L481.14 116.41 L482.99 114.13 L484.83 111.83 L486.67 109.52 L488.51 107.2 L490.35 104.89 L492.19 102.58 L494.03 100.29 L495.88 98.01 L497.72 95.76 L499.56 93.54 L501.4 91.36 L503.24 89.22 L505.08 87.12 L506.92 85.09 L508.76 83.12 L510.6 81.21 L512.45 79.38 L514.29 77.63 L516.13 75.96 L517.97 74.38 L519.81 72.91 L521.65 71.53 L523.49 70.25 L525.34 69.09 L527.18 68.04 L529.02 67.11 L530.86 66.3 L532.7 65.62 L534.54 65.06 L536.38 64.63 L538.22 64.32 L540.06 64.15 L541.91 64.11 L543.75 64.21 L545.59 64.43 L547.43 64.78 L549.27 65.27 L551.11 65.88 L552.95 66.61 L554.79 67.47 L556.64 68.45 L558.48 69.54 L560.32 70.75 L562.16 72.07 L564 73.49 L565.84 75 L567.68 76.62 L569.52 78.32 L571.37 80.1 L573.21 81.96 L575.05 83.9 L576.89 85.9 L578.73 87.95 L580.57 90.07 L582.41 92.22 L584.25 94.42 L586.1 96.66 L587.94 98.92 L589.78 101.2 L591.62 103.5 L593.46 105.81 L595.3 108.13 L597.14 110.44 L598.99 112.75 L600.83 115.04 L602.67 117.32 L604.51 119.58 L606.35 121.81 L608.19 124.01 L610.03 126.18 L611.87 128.31 L613.71 130.4 L615.56 132.45 L617.4 134.45 L619.24 136.4 L621.08 138.3 L622.92 140.15 L624.76 141.95 L626.6 143.68 L628.44 145.36 L630.29 146.99 L632.13 148.55 L633.97 150.06 L635.81 151.51 L637.65 152.89 L639.49 154.23 L641.33 155.5 L643.17 156.71 L645.02 157.87 L646.86 158.98 L648.7 160.03 L650.54 161.02 L652.38 161.97 L654.22 162.86 L656.06 163.7 L657.9 164.5 L659.75 165.25 L661.59 165.96 L663.43 166.62 L665.27 167.25 L667.11 167.83 L668.95 168.38 L670.79 168.89 L672.63 169.37 L674.48 169.81 L676.32 170.22 L678.16 170.61 L680 170.96" fill="none" stroke="#509a26" stroke-width="1.7" stroke-linejoin="round"/>
<path d="M385.4 174.8 L385.4 173.64 L387.24 173.49 L389.08 173.32 L390.92 173.13 L392.76 172.93 L394.61 172.7 L396.45 172.44 L398.29 172.16 L400.13 171.86 L401.97 171.52 L403.81 171.14 L405.65 170.74 L407.5 170.29 L409.34 169.8 L411.18 169.26 L413.02 168.68 L414.86 168.05 L416.7 167.36 L418.54 166.62 L420.38 165.81 L422.22 164.94 L424.07 164.01 L425.91 163 L427.75 161.92 L429.59 160.76 L431.43 159.52 L433.27 158.19 L435.11 156.78 L436.95 155.27 L438.8 153.68 L440.64 151.99 L442.48 150.2 L444.32 148.31 L446.16 146.32 L448 144.22 L449.84 142.02 L451.68 139.72 L453.53 137.31 L455.37 134.8 L457.21 132.19 L459.05 129.47 L460.89 126.65 L462.73 123.74 L464.57 120.73 L466.41 117.64 L468.26 114.45 L470.1 111.19 L471.94 107.86 L473.78 104.45 L475.62 100.99 L477.46 97.47 L479.3 93.91 L481.14 90.32 L482.99 86.7 L484.83 83.06 L486.67 79.42 L488.51 75.79 L490.35 72.17 L492.19 68.59 L494.03 65.04 L495.88 61.56 L497.72 58.14 L499.56 54.8 L501.4 51.55 L503.24 48.41 L505.08 45.38 L506.92 42.49 L508.76 39.73 L510.6 37.13 L512.45 34.7 L514.29 32.43 L516.13 30.35 L517.97 28.47 L519.81 26.78 L521.65 25.31 L523.49 24.05 L525.34 23.01 L527.18 22.2 L529.02 21.61 L530.86 21.26 L532.7 21.15 L534.54 21.26 L536.38 21.61 L538.22 22.2 L540.06 23.01 L541.91 24.05 L543.75 25.31 L545.59 26.78 L547.43 28.47 L549.27 30.35 L551.11 32.43 L552.95 34.7 L554.79 37.13 L556.64 39.73 L558.48 42.49 L560.32 45.38 L562.16 48.41 L564 51.55 L565.84 54.8 L567.68 58.14 L569.52 61.56 L571.37 65.04 L573.21 68.59 L575.05 72.17 L576.89 75.79 L578.73 79.42 L580.57 83.06 L582.41 86.7 L584.25 90.32 L586.1 93.91 L587.94 97.47 L589.78 100.99 L591.62 104.45 L593.46 107.86 L595.3 111.19 L597.14 114.45 L598.99 117.64 L600.83 120.73 L602.67 123.74 L604.51 126.65 L606.35 129.47 L608.19 132.19 L610.03 134.8 L611.87 137.31 L613.71 139.72 L615.56 142.02 L617.4 144.22 L619.24 146.32 L621.08 148.31 L622.92 150.2 L624.76 151.99 L626.6 153.68 L628.44 155.27 L630.29 156.78 L632.13 158.19 L633.97 159.52 L635.81 160.76 L637.65 161.92 L639.49 163 L641.33 164.01 L643.17 164.94 L645.02 165.81 L646.86 166.62 L648.7 167.36 L650.54 168.05 L652.38 168.68 L654.22 169.26 L656.06 169.8 L657.9 170.29 L659.75 170.74 L661.59 171.14 L663.43 171.52 L665.27 171.86 L667.11 172.16 L668.95 172.44 L670.79 172.7 L672.63 172.93 L674.48 173.13 L676.32 173.32 L678.16 173.49 L680 173.64 L680 174.8 Z" fill="rgba(242,138,130,0.6)" stroke="none"/>
<path d="M385.4 173.64 L387.24 173.49 L389.08 173.32 L390.92 173.13 L392.76 172.93 L394.61 172.7 L396.45 172.44 L398.29 172.16 L400.13 171.86 L401.97 171.52 L403.81 171.14 L405.65 170.74 L407.5 170.29 L409.34 169.8 L411.18 169.26 L413.02 168.68 L414.86 168.05 L416.7 167.36 L418.54 166.62 L420.38 165.81 L422.22 164.94 L424.07 164.01 L425.91 163 L427.75 161.92 L429.59 160.76 L431.43 159.52 L433.27 158.19 L435.11 156.78 L436.95 155.27 L438.8 153.68 L440.64 151.99 L442.48 150.2 L444.32 148.31 L446.16 146.32 L448 144.22 L449.84 142.02 L451.68 139.72 L453.53 137.31 L455.37 134.8 L457.21 132.19 L459.05 129.47 L460.89 126.65 L462.73 123.74 L464.57 120.73 L466.41 117.64 L468.26 114.45 L470.1 111.19 L471.94 107.86 L473.78 104.45 L475.62 100.99 L477.46 97.47 L479.3 93.91 L481.14 90.32 L482.99 86.7 L484.83 83.06 L486.67 79.42 L488.51 75.79 L490.35 72.17 L492.19 68.59 L494.03 65.04 L495.88 61.56 L497.72 58.14 L499.56 54.8 L501.4 51.55 L503.24 48.41 L505.08 45.38 L506.92 42.49 L508.76 39.73 L510.6 37.13 L512.45 34.7 L514.29 32.43 L516.13 30.35 L517.97 28.47 L519.81 26.78 L521.65 25.31 L523.49 24.05 L525.34 23.01 L527.18 22.2 L529.02 21.61 L530.86 21.26 L532.7 21.15 L534.54 21.26 L536.38 21.61 L538.22 22.2 L540.06 23.01 L541.91 24.05 L543.75 25.31 L545.59 26.78 L547.43 28.47 L549.27 30.35 L551.11 32.43 L552.95 34.7 L554.79 37.13 L556.64 39.73 L558.48 42.49 L560.32 45.38 L562.16 48.41 L564 51.55 L565.84 54.8 L567.68 58.14 L569.52 61.56 L571.37 65.04 L573.21 68.59 L575.05 72.17 L576.89 75.79 L578.73 79.42 L580.57 83.06 L582.41 86.7 L584.25 90.32 L586.1 93.91 L587.94 97.47 L589.78 100.99 L591.62 104.45 L593.46 107.86 L595.3 111.19 L597.14 114.45 L598.99 117.64 L600.83 120.73 L602.67 123.74 L604.51 126.65 L606.35 129.47 L608.19 132.19 L610.03 134.8 L611.87 137.31 L613.71 139.72 L615.56 142.02 L617.4 144.22 L619.24 146.32 L621.08 148.31 L622.92 150.2 L624.76 151.99 L626.6 153.68 L628.44 155.27 L630.29 156.78 L632.13 158.19 L633.97 159.52 L635.81 160.76 L637.65 161.92 L639.49 163 L641.33 164.01 L643.17 164.94 L645.02 165.81 L646.86 166.62 L648.7 167.36 L650.54 168.05 L652.38 168.68 L654.22 169.26 L656.06 169.8 L657.9 170.29 L659.75 170.74 L661.59 171.14 L663.43 171.52 L665.27 171.86 L667.11 172.16 L668.95 172.44 L670.79 172.7 L672.63 172.93 L674.48 173.13 L676.32 173.32 L678.16 173.49 L680 173.64" fill="none" stroke="#de2410" stroke-width="1.7" stroke-linejoin="round"/>
<line x1="385.4" y1="174.8" x2="680" y2="174.8" stroke="#8c8c8c" stroke-width="1.3"/>
<line x1="390.5" y1="177" x2="390.5" y2="195.9" stroke="#c6e0b6" stroke-width="1.1" opacity="1"/>
<line x1="407.4" y1="177" x2="407.4" y2="195.9" stroke="#f8ccc4" stroke-width="1.9" opacity="1"/>
<line x1="432.6" y1="177" x2="432.6" y2="195.9" stroke="#c8e0b8" stroke-width="1.1" opacity="1"/>
<line x1="440.6" y1="177" x2="440.6" y2="195.9" stroke="#c8e0b8" stroke-width="1.1" opacity="1"/>
<line x1="455" y1="177" x2="455" y2="195.9" stroke="#dcefd0" stroke-width="1.7" opacity="1"/>
<line x1="456.4" y1="177" x2="456.4" y2="195.9" stroke="#e0a284" stroke-width="1.1" opacity="1"/>
<line x1="461.3" y1="177" x2="461.3" y2="195.9" stroke="#dcefd0" stroke-width="1.4" opacity="1"/>
<line x1="469.6" y1="177" x2="469.6" y2="195.9" stroke="#f0a292" stroke-width="1.1" opacity="1"/>
<line x1="472.5" y1="177" x2="472.5" y2="195.9" stroke="#f2aa9c" stroke-width="1.1" opacity="1"/>
<line x1="477" y1="177" x2="477" y2="195.9" stroke="#e0f0d6" stroke-width="1.9" opacity="1"/>
<line x1="482.4" y1="177" x2="482.4" y2="195.9" stroke="#c4dfb4" stroke-width="1.1" opacity="1"/>
<line x1="484.5" y1="177" x2="484.5" y2="195.9" stroke="#c4dfb4" stroke-width="1.1" opacity="1"/>
<line x1="486.4" y1="177" x2="486.4" y2="195.9" stroke="#e2f0da" stroke-width="2.4" opacity="1"/>
<line x1="488.7" y1="177" x2="488.7" y2="195.9" stroke="#a4cc8c" stroke-width="1.6" opacity="1"/>
<line x1="492.6" y1="177" x2="492.6" y2="195.9" stroke="#d4e8c8" stroke-width="1.0" opacity="1"/>
<line x1="494.8" y1="177" x2="494.8" y2="195.9" stroke="#cfe4c0" stroke-width="1.7" opacity="1"/>
<line x1="496.2" y1="177" x2="496.2" y2="195.9" stroke="#e6f2e0" stroke-width="1.2" opacity="1"/>
<line x1="498.5" y1="177" x2="498.5" y2="195.9" stroke="#c4dfb4" stroke-width="1.0" opacity="1"/>
<line x1="500.1" y1="177" x2="500.1" y2="195.9" stroke="#f6c8c0" stroke-width="1.9" opacity="1"/>
<line x1="501.5" y1="177" x2="501.5" y2="195.9" stroke="#d8b090" stroke-width="0.8" opacity="1"/>
<line x1="502.9" y1="177" x2="502.9" y2="195.9" stroke="#f4c4bc" stroke-width="1.9" opacity="1"/>
<line x1="506.4" y1="177" x2="506.4" y2="195.9" stroke="#c8e0b8" stroke-width="1.0" opacity="1"/>
<line x1="510.5" y1="177" x2="510.5" y2="195.9" stroke="#cce2bc" stroke-width="1.1" opacity="1"/>
<line x1="514.5" y1="177" x2="514.5" y2="195.9" stroke="#f2a898" stroke-width="1.1" opacity="1"/>
<line x1="515.9" y1="177" x2="515.9" y2="195.9" stroke="#e2f0da" stroke-width="1.6" opacity="1"/>
<line x1="519.8" y1="177" x2="519.8" y2="195.9" stroke="#e4f0dc" stroke-width="1.5" opacity="1"/>
<line x1="521.5" y1="177" x2="521.5" y2="195.9" stroke="#e86a58" stroke-width="1.4" opacity="1"/>
<line x1="522.5" y1="177" x2="522.5" y2="195.9" stroke="#f8d8d2" stroke-width="0.9" opacity="1"/>
<line x1="526.2" y1="177" x2="526.2" y2="195.9" stroke="#d8e9cc" stroke-width="5.0" opacity="1"/>
<line x1="528.4" y1="177" x2="528.4" y2="195.9" stroke="#c6ddb6" stroke-width="1.2" opacity="1"/>
<line x1="531.4" y1="177" x2="531.4" y2="195.9" stroke="#f0a090" stroke-width="1.3" opacity="1"/>
<line x1="533.9" y1="177" x2="533.9" y2="195.9" stroke="#f09888" stroke-width="2.2" opacity="1"/>
<line x1="536" y1="177" x2="536" y2="195.9" stroke="#e4f0dc" stroke-width="1.9" opacity="1"/>
<line x1="539.5" y1="177" x2="539.5" y2="195.9" stroke="#f4b4a8" stroke-width="1.0" opacity="1"/>
<line x1="540.5" y1="177" x2="540.5" y2="195.9" stroke="#d0d4b0" stroke-width="1.0" opacity="1"/>
<line x1="541.5" y1="177" x2="541.5" y2="195.9" stroke="#f6c0b6" stroke-width="1.0" opacity="1"/>
<line x1="544.5" y1="177" x2="544.5" y2="195.9" stroke="#cce2bc" stroke-width="1.2" opacity="1"/>
<line x1="548.5" y1="177" x2="548.5" y2="195.9" stroke="#ec8a78" stroke-width="1.4" opacity="1"/>
<line x1="553.4" y1="177" x2="553.4" y2="195.9" stroke="#d8eacc" stroke-width="1.1" opacity="1"/>
<line x1="556.5" y1="177" x2="556.5" y2="195.9" stroke="#dcae90" stroke-width="1.2" opacity="1"/>
<line x1="558" y1="177" x2="558" y2="195.9" stroke="#d8e8cc" stroke-width="1.7" opacity="1"/>
<line x1="559.5" y1="177" x2="559.5" y2="195.9" stroke="#f6c0b6" stroke-width="1.1" opacity="1"/>
<line x1="561.5" y1="177" x2="561.5" y2="195.9" stroke="#c8bc90" stroke-width="1.1" opacity="1"/>
<line x1="562.5" y1="177" x2="562.5" y2="195.9" stroke="#f8d8d0" stroke-width="1.0" opacity="1"/>
<line x1="563.8" y1="177" x2="563.8" y2="195.9" stroke="#cce2bc" stroke-width="1.7" opacity="1"/>
<line x1="565.5" y1="177" x2="565.5" y2="195.9" stroke="#f4b8ac" stroke-width="1.2" opacity="1"/>
<line x1="567.6" y1="177" x2="567.6" y2="195.9" stroke="#dcecd2" stroke-width="2.9" opacity="1"/>
<line x1="573.5" y1="177" x2="573.5" y2="195.9" stroke="#a8d090" stroke-width="1.2" opacity="1"/>
<line x1="576.4" y1="177" x2="576.4" y2="195.9" stroke="#b0d498" stroke-width="1.2" opacity="1"/>
<line x1="578.4" y1="177" x2="578.4" y2="195.9" stroke="#d4e8c8" stroke-width="1.1" opacity="1"/>
<line x1="579.6" y1="177" x2="579.6" y2="195.9" stroke="#f4c0b4" stroke-width="1.1" opacity="1"/>
<line x1="580.6" y1="177" x2="580.6" y2="195.9" stroke="#a8c080" stroke-width="1.0" opacity="1"/>
<line x1="584.5" y1="177" x2="584.5" y2="195.9" stroke="#d0e6c2" stroke-width="1.0" opacity="1"/>
<line x1="586.6" y1="177" x2="586.6" y2="195.9" stroke="#cce2bc" stroke-width="1.2" opacity="1"/>
<line x1="588.5" y1="177" x2="588.5" y2="195.9" stroke="#e0eed8" stroke-width="2.7" opacity="1"/>
<line x1="590.5" y1="177" x2="590.5" y2="195.9" stroke="#9cc880" stroke-width="1.3" opacity="1"/>
<line x1="592.1" y1="177" x2="592.1" y2="195.9" stroke="#d4e8c8" stroke-width="1.9" opacity="1"/>
<line x1="595.5" y1="177" x2="595.5" y2="195.9" stroke="#cce2bc" stroke-width="1.1" opacity="1"/>
<line x1="597.5" y1="177" x2="597.5" y2="195.9" stroke="#d8eacc" stroke-width="1.0" opacity="1"/>
<line x1="600.4" y1="177" x2="600.4" y2="195.9" stroke="#c0dcae" stroke-width="1.2" opacity="1"/>
<line x1="602.5" y1="177" x2="602.5" y2="195.9" stroke="#c8a070" stroke-width="1.3" opacity="1"/>
<line x1="608.3" y1="177" x2="608.3" y2="195.9" stroke="#d8eacc" stroke-width="1.2" opacity="1"/>
<line x1="613.6" y1="177" x2="613.6" y2="195.9" stroke="#c4deb2" stroke-width="1.2" opacity="1"/>
<line x1="616" y1="177" x2="616" y2="195.9" stroke="#f2a898" stroke-width="2.1" opacity="1"/>
<line x1="619.6" y1="177" x2="619.6" y2="195.9" stroke="#c4deb2" stroke-width="1.2" opacity="1"/>
<line x1="627" y1="177" x2="627" y2="195.9" stroke="#e4f0dc" stroke-width="1.9" opacity="1"/>
<line x1="630.4" y1="177" x2="630.4" y2="195.9" stroke="#cce2bc" stroke-width="1.2" opacity="1"/>
<line x1="632.5" y1="177" x2="632.5" y2="195.9" stroke="#f4b0a4" stroke-width="1.3" opacity="1"/>
<line x1="639.4" y1="177" x2="639.4" y2="195.9" stroke="#c4deb2" stroke-width="1.1" opacity="1"/>
<line x1="656.4" y1="177" x2="656.4" y2="195.9" stroke="#c0dcae" stroke-width="1.1" opacity="1"/>
<line x1="532.5" y1="4.8" x2="532.5" y2="174.2" stroke="#1212ee" stroke-width="1.6" stroke-dasharray="2 2.9 8.8 3.6"/>
<path d="M532.5 9.2 C534.1 7.7 537.5 7.4 541.5 7.4 C547.5 7.4 553.5 9.4 559.7 11.8" fill="none" stroke="#1212ee" stroke-width="1.25"/>
<path d="M569.5 17.1 L560.4 9.5 L558.2 13.6 Z" fill="#1212ee"/>
<text x="569.7" y="19.5" font-family="'Liberation Serif','Times New Roman',serif" font-size="9.5" font-style="italic" font-weight="bold" fill="#1212ee" stroke="#1212ee" stroke-width="0.15">Zero Line</text>
<line x1="680" y1="0.5" x2="680" y2="198.6" stroke="#a4a4a4" stroke-width="1.7"/>
<line x1="384.9" y1="0.5" x2="680.85" y2="0.5" stroke="#5a5a5a" stroke-width="1.0"/>
<line x1="385.4" y1="-0.1" x2="385.4" y2="198.6" stroke="#404040" stroke-width="1.1"/>
<line x1="384.9" y1="198.1" x2="680.6" y2="198.1" stroke="#484848" stroke-width="1.2"/>
<line x1="382.4" y1="174.8" x2="385.4" y2="174.8" stroke="#333" stroke-width="0.9"/>
<text x="380.8" y="177.7" text-anchor="end" font-family="'Liberation Serif','Times New Roman',serif" font-size="8.6" font-style="italic" fill="#111" stroke="#111" stroke-width="0.1">0.00</text>
<line x1="383.6" y1="164.57" x2="385.4" y2="164.57" stroke="#333" stroke-width="0.8"/>
<line x1="382.4" y1="154.34" x2="385.4" y2="154.34" stroke="#333" stroke-width="0.9"/>
<text x="380.8" y="157.24" text-anchor="end" font-family="'Liberation Serif','Times New Roman',serif" font-size="8.6" font-style="italic" fill="#111" stroke="#111" stroke-width="0.1">0.01</text>
<line x1="383.6" y1="144.11" x2="385.4" y2="144.11" stroke="#333" stroke-width="0.8"/>
<line x1="382.4" y1="133.88" x2="385.4" y2="133.88" stroke="#333" stroke-width="0.9"/>
<text x="380.8" y="136.78" text-anchor="end" font-family="'Liberation Serif','Times New Roman',serif" font-size="8.6" font-style="italic" fill="#111" stroke="#111" stroke-width="0.1">0.02</text>
<line x1="383.6" y1="123.65" x2="385.4" y2="123.65" stroke="#333" stroke-width="0.8"/>
<line x1="382.4" y1="113.42" x2="385.4" y2="113.42" stroke="#333" stroke-width="0.9"/>
<text x="380.8" y="116.32" text-anchor="end" font-family="'Liberation Serif','Times New Roman',serif" font-size="8.6" font-style="italic" fill="#111" stroke="#111" stroke-width="0.1">0.03</text>
<line x1="383.6" y1="103.19" x2="385.4" y2="103.19" stroke="#333" stroke-width="0.8"/>
<line x1="382.4" y1="92.96" x2="385.4" y2="92.96" stroke="#333" stroke-width="0.9"/>
<text x="380.8" y="95.86" text-anchor="end" font-family="'Liberation Serif','Times New Roman',serif" font-size="8.6" font-style="italic" fill="#111" stroke="#111" stroke-width="0.1">0.04</text>
<line x1="383.6" y1="82.73" x2="385.4" y2="82.73" stroke="#333" stroke-width="0.8"/>
<line x1="382.4" y1="72.5" x2="385.4" y2="72.5" stroke="#333" stroke-width="0.9"/>
<text x="380.8" y="75.4" text-anchor="end" font-family="'Liberation Serif','Times New Roman',serif" font-size="8.6" font-style="italic" fill="#111" stroke="#111" stroke-width="0.1">0.05</text>
<line x1="383.6" y1="62.27" x2="385.4" y2="62.27" stroke="#333" stroke-width="0.8"/>
<line x1="382.4" y1="52.04" x2="385.4" y2="52.04" stroke="#333" stroke-width="0.9"/>
<text x="380.8" y="54.94" text-anchor="end" font-family="'Liberation Serif','Times New Roman',serif" font-size="8.6" font-style="italic" fill="#111" stroke="#111" stroke-width="0.1">0.06</text>
<line x1="383.6" y1="41.81" x2="385.4" y2="41.81" stroke="#333" stroke-width="0.8"/>
<line x1="382.4" y1="31.58" x2="385.4" y2="31.58" stroke="#333" stroke-width="0.9"/>
<text x="380.8" y="34.48" text-anchor="end" font-family="'Liberation Serif','Times New Roman',serif" font-size="8.6" font-style="italic" fill="#111" stroke="#111" stroke-width="0.1">0.07</text>
<line x1="383.6" y1="21.35" x2="385.4" y2="21.35" stroke="#333" stroke-width="0.8"/>
<line x1="382.4" y1="11.12" x2="385.4" y2="11.12" stroke="#333" stroke-width="0.9"/>
<text x="380.8" y="14.02" text-anchor="end" font-family="'Liberation Serif','Times New Roman',serif" font-size="8.6" font-style="italic" fill="#111" stroke="#111" stroke-width="0.1">0.08</text>
<line x1="385.4" y1="198.1" x2="385.4" y2="201" stroke="#333" stroke-width="0.9"/>
<text x="385.3" y="209.6" text-anchor="middle" font-family="'Liberation Serif','Times New Roman',serif" font-size="8.6" font-style="italic" fill="#111" stroke="#111" stroke-width="0.1">-20</text>
<line x1="403.81" y1="198.1" x2="403.81" y2="199.7" stroke="#333" stroke-width="0.8"/>
<line x1="422.22" y1="198.1" x2="422.22" y2="201" stroke="#333" stroke-width="0.9"/>
<text x="422.12" y="209.6" text-anchor="middle" font-family="'Liberation Serif','Times New Roman',serif" font-size="8.6" font-style="italic" fill="#111" stroke="#111" stroke-width="0.1">-15</text>
<line x1="440.64" y1="198.1" x2="440.64" y2="199.7" stroke="#333" stroke-width="0.8"/>
<line x1="459.05" y1="198.1" x2="459.05" y2="201" stroke="#333" stroke-width="0.9"/>
<text x="458.95" y="209.6" text-anchor="middle" font-family="'Liberation Serif','Times New Roman',serif" font-size="8.6" font-style="italic" fill="#111" stroke="#111" stroke-width="0.1">-10</text>
<line x1="477.46" y1="198.1" x2="477.46" y2="199.7" stroke="#333" stroke-width="0.8"/>
<line x1="495.88" y1="198.1" x2="495.88" y2="201" stroke="#333" stroke-width="0.9"/>
<text x="495.77" y="209.6" text-anchor="middle" font-family="'Liberation Serif','Times New Roman',serif" font-size="8.6" font-style="italic" fill="#111" stroke="#111" stroke-width="0.1">-5</text>
<line x1="514.29" y1="198.1" x2="514.29" y2="199.7" stroke="#333" stroke-width="0.8"/>
<line x1="532.7" y1="198.1" x2="532.7" y2="201" stroke="#333" stroke-width="0.9"/>
<text x="532.7" y="209.6" text-anchor="middle" font-family="'Liberation Serif','Times New Roman',serif" font-size="8.6" font-style="italic" fill="#111" stroke="#111" stroke-width="0.1">0</text>
<line x1="551.11" y1="198.1" x2="551.11" y2="199.7" stroke="#333" stroke-width="0.8"/>
<line x1="569.52" y1="198.1" x2="569.52" y2="201" stroke="#333" stroke-width="0.9"/>
<text x="569.52" y="209.6" text-anchor="middle" font-family="'Liberation Serif','Times New Roman',serif" font-size="8.6" font-style="italic" fill="#111" stroke="#111" stroke-width="0.1">5</text>
<line x1="587.94" y1="198.1" x2="587.94" y2="199.7" stroke="#333" stroke-width="0.8"/>
<line x1="606.35" y1="198.1" x2="606.35" y2="201" stroke="#333" stroke-width="0.9"/>
<text x="606.35" y="209.6" text-anchor="middle" font-family="'Liberation Serif','Times New Roman',serif" font-size="8.6" font-style="italic" fill="#111" stroke="#111" stroke-width="0.1">10</text>
<line x1="624.76" y1="198.1" x2="624.76" y2="199.7" stroke="#333" stroke-width="0.8"/>
<line x1="643.17" y1="198.1" x2="643.17" y2="201" stroke="#333" stroke-width="0.9"/>
<text x="643.17" y="209.6" text-anchor="middle" font-family="'Liberation Serif','Times New Roman',serif" font-size="8.6" font-style="italic" fill="#111" stroke="#111" stroke-width="0.1">15</text>
<line x1="661.59" y1="198.1" x2="661.59" y2="199.7" stroke="#333" stroke-width="0.8"/>
<line x1="680" y1="198.1" x2="680" y2="201" stroke="#333" stroke-width="0.9"/>
<text x="680" y="209.6" text-anchor="middle" font-family="'Liberation Serif','Times New Roman',serif" font-size="8.6" font-style="italic" fill="#111" stroke="#111" stroke-width="0.1">20</text>
<text x="532.3" y="217.55" text-anchor="middle" font-family="'Liberation Serif','Times New Roman',serif" font-size="10" font-style="italic" fill="#111" stroke="#111" stroke-width="0.12">Error (%)</text>
<text transform="translate(358.4 87.25) rotate(-90)" text-anchor="middle" font-family="'Liberation Serif','Times New Roman',serif" font-size="10" font-style="italic" fill="#111">Frequency</text>
<path d="M443.3 8.4 h3.2 v29.2 h-55.4 v-3.2 h52.2 Z" fill="#d8d8d8"/>
<rect x="387.9" y="5.2" width="55.4" height="29.2" fill="rgba(255,255,255,0.78)" stroke="#a9a9a9" stroke-width="0.9"/>
<rect x="390.7" y="7.8" width="24.0" height="11.0" fill="#e4fbc6" fill-opacity="0.9" stroke="#aedc88" stroke-width="1.4"/>
<rect x="390.7" y="21.4" width="24.0" height="11.0" fill="#f8b6b0" fill-opacity="0.9" stroke="#ee7564" stroke-width="1.4"/>
<text x="417.5" y="16.6" font-family="'Liberation Serif','Times New Roman',serif" font-size="11.3" font-style="italic" fill="#111" stroke="#111" stroke-width="0.25">Train</text>
<text x="417.5" y="30.5" font-family="'Liberation Serif','Times New Roman',serif" font-size="11.3" font-style="italic" fill="#111" stroke="#111" stroke-width="0.25">Test</text>
<path d="M430.3 42.5 h3.2 v13.6 h-30.6 v-3.2 h27.4 Z" fill="#d8d8d8"/>
<rect x="399.7" y="39.3" width="30.6" height="13.6" fill="rgba(255,255,255,0.8)" stroke="#a9a9a9" stroke-width="0.9"/>
<text x="414.7" y="49.4" text-anchor="middle" font-family="'Liberation Serif','Times New Roman',serif" font-size="9.1" fill="#111" stroke="#111" stroke-width="0.16">ANMG</text>
</g>
<g>
<line x1="210" y1="390.5" x2="503.4" y2="390.5" stroke="#ededed" stroke-width="1"/>
<line x1="210" y1="390.5" x2="503.4" y2="390.5" stroke="#c6c6c6" stroke-width="1" stroke-dasharray="1 1"/>
<line x1="210" y1="370.5" x2="503.4" y2="370.5" stroke="#ededed" stroke-width="1"/>
<line x1="210" y1="370.5" x2="503.4" y2="370.5" stroke="#c6c6c6" stroke-width="1" stroke-dasharray="1 1"/>
<line x1="210" y1="351.5" x2="503.4" y2="351.5" stroke="#ededed" stroke-width="1"/>
<line x1="210" y1="351.5" x2="503.4" y2="351.5" stroke="#c6c6c6" stroke-width="1" stroke-dasharray="1 1"/>
<line x1="210" y1="332.5" x2="503.4" y2="332.5" stroke="#ededed" stroke-width="1"/>
<line x1="210" y1="332.5" x2="503.4" y2="332.5" stroke="#c6c6c6" stroke-width="1" stroke-dasharray="1 1"/>
<line x1="210" y1="312.5" x2="503.4" y2="312.5" stroke="#ededed" stroke-width="1"/>
<line x1="210" y1="312.5" x2="503.4" y2="312.5" stroke="#c6c6c6" stroke-width="1" stroke-dasharray="1 1"/>
<line x1="210" y1="293.5" x2="503.4" y2="293.5" stroke="#ededed" stroke-width="1"/>
<line x1="210" y1="293.5" x2="503.4" y2="293.5" stroke="#c6c6c6" stroke-width="1" stroke-dasharray="1 1"/>
<line x1="210" y1="273.5" x2="503.4" y2="273.5" stroke="#ededed" stroke-width="1"/>
<line x1="210" y1="273.5" x2="503.4" y2="273.5" stroke="#c6c6c6" stroke-width="1" stroke-dasharray="1 1"/>
<line x1="210" y1="254.5" x2="503.4" y2="254.5" stroke="#ededed" stroke-width="1"/>
<line x1="210" y1="254.5" x2="503.4" y2="254.5" stroke="#c6c6c6" stroke-width="1" stroke-dasharray="1 1"/>
<path d="M209.2 409.5 L209.2 386.83 L210.94 385.35 L212.67 383.79 L214.41 382.16 L216.14 380.46 L217.88 378.68 L219.61 376.83 L221.35 374.91 L223.09 372.91 L224.82 370.84 L226.56 368.69 L228.29 366.48 L230.03 364.18 L231.77 361.82 L233.5 359.39 L235.24 356.89 L236.97 354.32 L238.71 351.69 L240.44 349 L242.18 346.24 L243.92 343.44 L245.65 340.58 L247.39 337.68 L249.12 334.73 L250.86 331.75 L252.59 328.73 L254.33 325.68 L256.07 322.62 L257.8 319.53 L259.54 316.44 L261.27 313.34 L263.01 310.24 L264.74 307.15 L266.48 304.08 L268.22 301.03 L269.95 298.01 L271.69 295.03 L273.42 292.09 L275.16 289.2 L276.9 286.38 L278.63 283.62 L280.37 280.94 L282.1 278.34 L283.84 275.83 L285.57 273.42 L287.31 271.11 L289.05 268.91 L290.78 266.83 L292.52 264.87 L294.25 263.04 L295.99 261.34 L297.72 259.78 L299.46 258.37 L301.2 257.11 L302.93 256 L304.67 255.04 L306.4 254.24 L308.14 253.61 L309.88 253.14 L311.61 252.83 L313.35 252.69 L315.08 252.72 L316.82 252.91 L318.55 253.27 L320.29 253.8 L322.03 254.48 L323.76 255.33 L325.5 256.34 L327.23 257.5 L328.97 258.81 L330.7 260.27 L332.44 261.87 L334.18 263.61 L335.91 265.49 L337.65 267.49 L339.38 269.61 L341.12 271.84 L342.86 274.19 L344.59 276.63 L346.33 279.17 L348.06 281.8 L349.8 284.5 L351.53 287.28 L353.27 290.13 L355.01 293.03 L356.74 295.98 L358.48 298.98 L360.21 302.01 L361.95 305.06 L363.68 308.14 L365.42 311.23 L367.16 314.33 L368.89 317.43 L370.63 320.53 L372.36 323.61 L374.1 326.67 L375.83 329.71 L377.57 332.71 L379.31 335.69 L381.04 338.62 L382.78 341.51 L384.51 344.35 L386.25 347.14 L387.99 349.87 L389.72 352.54 L391.46 355.15 L393.19 357.7 L394.93 360.18 L396.66 362.59 L398.4 364.93 L400.14 367.2 L401.87 369.39 L403.61 371.52 L405.34 373.56 L407.08 375.54 L408.81 377.44 L410.55 379.26 L412.29 381.01 L414.02 382.69 L415.76 384.3 L417.49 385.83 L419.23 387.3 L420.97 388.7 L422.7 390.03 L424.44 391.29 L426.17 392.49 L427.91 393.63 L429.64 394.71 L431.38 395.72 L433.12 396.69 L434.85 397.59 L436.59 398.45 L438.32 399.25 L440.06 400.01 L441.79 400.72 L443.53 401.39 L445.27 402.01 L447 402.59 L448.74 403.13 L450.47 403.64 L452.21 404.11 L453.94 404.55 L455.68 404.96 L457.42 405.34 L459.15 405.69 L460.89 406.02 L462.62 406.32 L464.36 406.6 L466.1 406.86 L467.83 407.09 L469.57 407.31 L471.3 407.51 L473.04 407.69 L474.77 407.86 L476.51 408.02 L478.25 408.16 L479.98 408.29 L481.72 408.4 L483.45 408.51 L485.19 408.61 L486.92 408.7 L486.92 409.5 Z" fill="rgba(255,165,212,0.75)" stroke="none"/>
<path d="M209.2 409.5 L209.2 392.62 L210.94 391.6 L212.67 390.54 L214.41 389.44 L216.14 388.29 L217.88 387.1 L219.61 385.88 L221.35 384.61 L223.09 383.29 L224.82 381.94 L226.56 380.56 L228.29 379.13 L230.03 377.66 L231.77 376.16 L233.5 374.63 L235.24 373.07 L236.97 371.47 L238.71 369.85 L240.44 368.2 L242.18 366.53 L243.92 364.83 L245.65 363.12 L247.39 361.4 L249.12 359.66 L250.86 357.92 L252.59 356.17 L254.33 354.42 L256.07 352.67 L257.8 350.92 L259.54 349.19 L261.27 347.48 L263.01 345.78 L264.74 344.1 L266.48 342.45 L268.22 340.83 L269.95 339.25 L271.69 337.7 L273.42 336.2 L275.16 334.75 L276.9 333.35 L278.63 332 L280.37 330.71 L282.1 329.49 L283.84 328.33 L285.57 327.25 L287.31 326.23 L289.05 325.3 L290.78 324.44 L292.52 323.66 L294.25 322.97 L295.99 322.37 L297.72 321.85 L299.46 321.42 L301.2 321.09 L302.93 320.84 L304.67 320.69 L306.4 320.64 L308.14 320.68 L309.88 320.81 L311.61 321.03 L313.35 321.35 L315.08 321.76 L316.82 322.25 L318.55 322.84 L320.29 323.52 L322.03 324.27 L323.76 325.12 L325.5 326.04 L327.23 327.04 L328.97 328.11 L330.7 329.25 L332.44 330.46 L334.18 331.73 L335.91 333.07 L337.65 334.46 L339.38 335.9 L341.12 337.39 L342.86 338.93 L344.59 340.51 L346.33 342.12 L348.06 343.76 L349.8 345.43 L351.53 347.13 L353.27 348.84 L355.01 350.57 L356.74 352.31 L358.48 354.06 L360.21 355.81 L361.95 357.56 L363.68 359.31 L365.42 361.05 L367.16 362.77 L368.89 364.49 L370.63 366.18 L372.36 367.86 L374.1 369.51 L375.83 371.14 L377.57 372.74 L379.31 374.32 L381.04 375.86 L382.78 377.36 L384.51 378.83 L386.25 380.27 L387.99 381.67 L389.72 383.02 L391.46 384.34 L393.19 385.62 L394.93 386.86 L396.66 388.05 L398.4 389.21 L400.14 390.32 L401.87 391.39 L403.61 392.42 L405.34 393.41 L407.08 394.35 L408.81 395.26 L410.55 396.12 L412.29 396.95 L414.02 397.74 L415.76 398.49 L417.49 399.2 L419.23 399.88 L420.97 400.52 L422.7 401.13 L424.44 401.7 L426.17 402.24 L427.91 402.76 L429.64 403.24 L431.38 403.69 L433.12 404.12 L434.85 404.52 L436.59 404.9 L438.32 405.25 L440.06 405.58 L441.79 405.89 L443.53 406.17 L445.27 406.44 L447 406.69 L448.74 406.92 L450.47 407.14 L452.21 407.34 L453.94 407.52 L455.68 407.69 L457.42 407.85 L459.15 407.99 L460.89 408.13 L462.62 408.25 L464.36 408.37 L466.1 408.47 L467.83 408.57 L469.57 408.65 L471.3 408.73 L473.04 408.81 L474.77 408.87 L476.51 408.94 L478.25 408.99 L479.98 409.04 L481.72 409.09 L483.45 409.13 L485.19 409.17 L486.92 409.2 L486.92 409.5 Z" fill="rgba(183,147,206,0.5)" stroke="none"/>
<path d="M209.2 392.62 L210.94 391.6 L212.67 390.54 L214.41 389.44 L216.14 388.29 L217.88 387.1 L219.61 385.88 L221.35 384.61 L223.09 383.29 L224.82 381.94 L226.56 380.56 L228.29 379.13 L230.03 377.66 L231.77 376.16 L233.5 374.63 L235.24 373.07 L236.97 371.47 L238.71 369.85 L240.44 368.2 L242.18 366.53 L243.92 364.83 L245.65 363.12 L247.39 361.4 L249.12 359.66 L250.86 357.92 L252.59 356.17 L254.33 354.42 L256.07 352.67 L257.8 350.92 L259.54 349.19 L261.27 347.48 L263.01 345.78 L264.74 344.1 L266.48 342.45 L268.22 340.83 L269.95 339.25 L271.69 337.7 L273.42 336.2 L275.16 334.75 L276.9 333.35 L278.63 332 L280.37 330.71 L282.1 329.49 L283.84 328.33 L285.57 327.25 L287.31 326.23 L289.05 325.3 L290.78 324.44 L292.52 323.66 L294.25 322.97 L295.99 322.37 L297.72 321.85 L299.46 321.42 L301.2 321.09 L302.93 320.84 L304.67 320.69 L306.4 320.64 L308.14 320.68 L309.88 320.81 L311.61 321.03 L313.35 321.35 L315.08 321.76 L316.82 322.25 L318.55 322.84 L320.29 323.52 L322.03 324.27 L323.76 325.12 L325.5 326.04 L327.23 327.04 L328.97 328.11 L330.7 329.25 L332.44 330.46 L334.18 331.73 L335.91 333.07 L337.65 334.46 L339.38 335.9 L341.12 337.39 L342.86 338.93 L344.59 340.51 L346.33 342.12 L348.06 343.76 L349.8 345.43 L351.53 347.13 L353.27 348.84 L355.01 350.57 L356.74 352.31 L358.48 354.06 L360.21 355.81 L361.95 357.56 L363.68 359.31 L365.42 361.05 L367.16 362.77 L368.89 364.49 L370.63 366.18 L372.36 367.86 L374.1 369.51 L375.83 371.14 L377.57 372.74 L379.31 374.32 L381.04 375.86 L382.78 377.36 L384.51 378.83 L386.25 380.27 L387.99 381.67 L389.72 383.02 L391.46 384.34 L393.19 385.62 L394.93 386.86 L396.66 388.05 L398.4 389.21 L400.14 390.32 L401.87 391.39 L403.61 392.42 L405.34 393.41 L407.08 394.35 L408.81 395.26 L410.55 396.12 L412.29 396.95 L414.02 397.74 L415.76 398.49 L417.49 399.2 L419.23 399.88 L420.97 400.52 L422.7 401.13 L424.44 401.7 L426.17 402.24 L427.91 402.76 L429.64 403.24 L431.38 403.69 L433.12 404.12 L434.85 404.52 L436.59 404.9 L438.32 405.25 L440.06 405.58 L441.79 405.89 L443.53 406.17 L445.27 406.44 L447 406.69 L448.74 406.92 L450.47 407.14 L452.21 407.34 L453.94 407.52 L455.68 407.69 L457.42 407.85 L459.15 407.99 L460.89 408.13 L462.62 408.25 L464.36 408.37 L466.1 408.47 L467.83 408.57 L469.57 408.65 L471.3 408.73 L473.04 408.81 L474.77 408.87 L476.51 408.94 L478.25 408.99 L479.98 409.04 L481.72 409.09 L483.45 409.13 L485.19 409.17 L486.92 409.2" fill="none" stroke="#784a7c" stroke-width="1.6" stroke-linejoin="round"/>
<path d="M209.2 386.83 L210.94 385.35 L212.67 383.79 L214.41 382.16 L216.14 380.46 L217.88 378.68 L219.61 376.83 L221.35 374.91 L223.09 372.91 L224.82 370.84 L226.56 368.69 L228.29 366.48 L230.03 364.18 L231.77 361.82 L233.5 359.39 L235.24 356.89 L236.97 354.32 L238.71 351.69 L240.44 349 L242.18 346.24 L243.92 343.44 L245.65 340.58 L247.39 337.68 L249.12 334.73 L250.86 331.75 L252.59 328.73 L254.33 325.68 L256.07 322.62 L257.8 319.53 L259.54 316.44 L261.27 313.34 L263.01 310.24 L264.74 307.15 L266.48 304.08 L268.22 301.03 L269.95 298.01 L271.69 295.03 L273.42 292.09 L275.16 289.2 L276.9 286.38 L278.63 283.62 L280.37 280.94 L282.1 278.34 L283.84 275.83 L285.57 273.42 L287.31 271.11 L289.05 268.91 L290.78 266.83 L292.52 264.87 L294.25 263.04 L295.99 261.34 L297.72 259.78 L299.46 258.37 L301.2 257.11 L302.93 256 L304.67 255.04 L306.4 254.24 L308.14 253.61 L309.88 253.14 L311.61 252.83 L313.35 252.69 L315.08 252.72 L316.82 252.91 L318.55 253.27 L320.29 253.8 L322.03 254.48 L323.76 255.33 L325.5 256.34 L327.23 257.5 L328.97 258.81 L330.7 260.27 L332.44 261.87 L334.18 263.61 L335.91 265.49 L337.65 267.49 L339.38 269.61 L341.12 271.84 L342.86 274.19 L344.59 276.63 L346.33 279.17 L348.06 281.8 L349.8 284.5 L351.53 287.28 L353.27 290.13 L355.01 293.03 L356.74 295.98 L358.48 298.98 L360.21 302.01 L361.95 305.06 L363.68 308.14 L365.42 311.23 L367.16 314.33 L368.89 317.43 L370.63 320.53 L372.36 323.61 L374.1 326.67 L375.83 329.71 L377.57 332.71 L379.31 335.69 L381.04 338.62 L382.78 341.51 L384.51 344.35 L386.25 347.14 L387.99 349.87 L389.72 352.54 L391.46 355.15 L393.19 357.7 L394.93 360.18 L396.66 362.59 L398.4 364.93 L400.14 367.2 L401.87 369.39 L403.61 371.52 L405.34 373.56 L407.08 375.54 L408.81 377.44 L410.55 379.26 L412.29 381.01 L414.02 382.69 L415.76 384.3 L417.49 385.83 L419.23 387.3 L420.97 388.7 L422.7 390.03 L424.44 391.29 L426.17 392.49 L427.91 393.63 L429.64 394.71 L431.38 395.72 L433.12 396.69 L434.85 397.59 L436.59 398.45 L438.32 399.25 L440.06 400.01 L441.79 400.72 L443.53 401.39 L445.27 402.01 L447 402.59 L448.74 403.13 L450.47 403.64 L452.21 404.11 L453.94 404.55 L455.68 404.96 L457.42 405.34 L459.15 405.69 L460.89 406.02 L462.62 406.32 L464.36 406.6 L466.1 406.86 L467.83 407.09 L469.57 407.31 L471.3 407.51 L473.04 407.69 L474.77 407.86 L476.51 408.02 L478.25 408.16 L479.98 408.29 L481.72 408.4 L483.45 408.51 L485.19 408.61 L486.92 408.7" fill="none" stroke="#a8024b" stroke-width="1.8" stroke-linejoin="round"/>
<line x1="209.2" y1="409.5" x2="503.4" y2="409.5" stroke="#2a2a2a" stroke-width="1.1"/>
<line x1="219" y1="411.7" x2="219" y2="430.4" stroke="#dcdfe8" stroke-width="1.7" opacity="1"/>
<line x1="220.4" y1="411.7" x2="220.4" y2="430.4" stroke="#a8b0c0" stroke-width="1.2" opacity="1"/>
<line x1="228.4" y1="411.7" x2="228.4" y2="430.4" stroke="#e4a8c8" stroke-width="1.3" opacity="1"/>
<line x1="236" y1="411.7" x2="236" y2="430.4" stroke="#a4acbc" stroke-width="1.9" opacity="1"/>
<line x1="241.1" y1="411.7" x2="241.1" y2="430.4" stroke="#d0d4e0" stroke-width="1.3" opacity="1"/>
<line x1="244.7" y1="411.7" x2="244.7" y2="430.4" stroke="#98a2b6" stroke-width="1.6" opacity="1"/>
<line x1="250.6" y1="411.7" x2="250.6" y2="430.4" stroke="#8e9ab0" stroke-width="1.3" opacity="1"/>
<line x1="255" y1="411.7" x2="255" y2="430.4" stroke="#e4a0c4" stroke-width="2.0" opacity="1"/>
<line x1="257.1" y1="411.7" x2="257.1" y2="430.4" stroke="#dcdfe8" stroke-width="1.6" opacity="1"/>
<line x1="259.4" y1="411.7" x2="259.4" y2="430.4" stroke="#9aa4b8" stroke-width="1.3" opacity="1"/>
<line x1="263.6" y1="411.7" x2="263.6" y2="430.4" stroke="#909cb2" stroke-width="1.3" opacity="1"/>
<line x1="265" y1="411.7" x2="265" y2="430.4" stroke="#d4d8e2" stroke-width="1.5" opacity="1"/>
<line x1="271.1" y1="411.7" x2="271.1" y2="430.4" stroke="#c0c6d2" stroke-width="2.2" opacity="1"/>
<line x1="272.8" y1="411.7" x2="272.8" y2="430.4" stroke="#dcdce6" stroke-width="1.2" opacity="1"/>
<line x1="274" y1="411.7" x2="274" y2="430.4" stroke="#dc8cb8" stroke-width="1.2" opacity="1"/>
<line x1="275.3" y1="411.7" x2="275.3" y2="430.4" stroke="#70507c" stroke-width="1.4" opacity="1"/>
<line x1="276.5" y1="411.7" x2="276.5" y2="430.4" stroke="#e0a0c4" stroke-width="1.0" opacity="1"/>
<line x1="278" y1="411.7" x2="278" y2="430.4" stroke="#b0b8c6" stroke-width="1.9" opacity="1"/>
<line x1="280" y1="411.7" x2="280" y2="430.4" stroke="#78869c" stroke-width="2.1" opacity="1"/>
<line x1="284.5" y1="411.7" x2="284.5" y2="430.4" stroke="#d470a8" stroke-width="1.3" opacity="1"/>
<line x1="285.9" y1="411.7" x2="285.9" y2="430.4" stroke="#ecd0e0" stroke-width="1.3" opacity="1"/>
<line x1="287.7" y1="411.7" x2="287.7" y2="430.4" stroke="#c8ced8" stroke-width="2.4" opacity="1"/>
<line x1="289.4" y1="411.7" x2="289.4" y2="430.4" stroke="#e4a0c4" stroke-width="1.1" opacity="1"/>
<line x1="293.6" y1="411.7" x2="293.6" y2="430.4" stroke="#d870a8" stroke-width="1.2" opacity="1"/>
<line x1="294.7" y1="411.7" x2="294.7" y2="430.4" stroke="#a890b0" stroke-width="1.0" opacity="1"/>
<line x1="295.6" y1="411.7" x2="295.6" y2="430.4" stroke="#dc88b4" stroke-width="0.8" opacity="1"/>
<line x1="298.5" y1="411.7" x2="298.5" y2="430.4" stroke="#60708c" stroke-width="1.0" opacity="1"/>
<line x1="299.5" y1="411.7" x2="299.5" y2="430.4" stroke="#e4b4d0" stroke-width="1.0" opacity="1"/>
<line x1="300.5" y1="411.7" x2="300.5" y2="430.4" stroke="#c0c8d4" stroke-width="1.1" opacity="1"/>
<line x1="301.6" y1="411.7" x2="301.6" y2="430.4" stroke="#e0a0c4" stroke-width="1.0" opacity="1"/>
<line x1="302.5" y1="411.7" x2="302.5" y2="430.4" stroke="#a8b0c0" stroke-width="0.9" opacity="1"/>
<line x1="305" y1="411.7" x2="305" y2="430.4" stroke="#dce0e8" stroke-width="1.8" opacity="1"/>
<line x1="310.5" y1="411.7" x2="310.5" y2="430.4" stroke="#a0a8bc" stroke-width="0.9" opacity="1"/>
<line x1="311.7" y1="411.7" x2="311.7" y2="430.4" stroke="#d878ac" stroke-width="1.3" opacity="1"/>
<line x1="312.7" y1="411.7" x2="312.7" y2="430.4" stroke="#a0a8bc" stroke-width="0.7" opacity="1"/>
<line x1="315.7" y1="411.7" x2="315.7" y2="430.4" stroke="#a0a8bc" stroke-width="1.3" opacity="1"/>
<line x1="317.1" y1="411.7" x2="317.1" y2="430.4" stroke="#dc90b8" stroke-width="1.5" opacity="1"/>
<line x1="318.4" y1="411.7" x2="318.4" y2="430.4" stroke="#d8c8dc" stroke-width="1.0" opacity="1"/>
<line x1="319.4" y1="411.7" x2="319.4" y2="430.4" stroke="#7c6088" stroke-width="1.1" opacity="1"/>
<line x1="322.8" y1="411.7" x2="322.8" y2="430.4" stroke="#dce0e8" stroke-width="1.3" opacity="1"/>
<line x1="324.5" y1="411.7" x2="324.5" y2="430.4" stroke="#a0aac0" stroke-width="1.1" opacity="1"/>
<line x1="328.1" y1="411.7" x2="328.1" y2="430.4" stroke="#d4d8e2" stroke-width="3.5" opacity="1"/>
<line x1="327" y1="411.7" x2="327" y2="430.4" stroke="#c4cad6" stroke-width="0.8" opacity="1"/>
<line x1="329.3" y1="411.7" x2="329.3" y2="430.4" stroke="#c4cad6" stroke-width="0.8" opacity="1"/>
<line x1="332.6" y1="411.7" x2="332.6" y2="430.4" stroke="#a488b0" stroke-width="1.1" opacity="1"/>
<line x1="333.6" y1="411.7" x2="333.6" y2="430.4" stroke="#ecd0e0" stroke-width="0.8" opacity="1"/>
<line x1="336.7" y1="411.7" x2="336.7" y2="430.4" stroke="#ccd2dc" stroke-width="2.8" opacity="1"/>
<line x1="339.4" y1="411.7" x2="339.4" y2="430.4" stroke="#e8b8d4" stroke-width="1.3" opacity="1"/>
<line x1="341.4" y1="411.7" x2="341.4" y2="430.4" stroke="#6c7c98" stroke-width="1.3" opacity="1"/>
<line x1="344.4" y1="411.7" x2="344.4" y2="430.4" stroke="#ccd2dc" stroke-width="1.0" opacity="1"/>
<line x1="346.4" y1="411.7" x2="346.4" y2="430.4" stroke="#c4cad6" stroke-width="1.0" opacity="1"/>
<line x1="349.3" y1="411.7" x2="349.3" y2="430.4" stroke="#8490a6" stroke-width="1.4" opacity="1"/>
<line x1="351.5" y1="411.7" x2="351.5" y2="430.4" stroke="#d890b8" stroke-width="1.2" opacity="1"/>
<line x1="352.6" y1="411.7" x2="352.6" y2="430.4" stroke="#a8b0c0" stroke-width="0.9" opacity="1"/>
<line x1="356" y1="411.7" x2="356" y2="430.4" stroke="#ccd2dc" stroke-width="1.6" opacity="1"/>
<line x1="357.3" y1="411.7" x2="357.3" y2="430.4" stroke="#b0b8c8" stroke-width="1.0" opacity="1"/>
<line x1="367.5" y1="411.7" x2="367.5" y2="430.4" stroke="#b0b8c8" stroke-width="1.2" opacity="1"/>
<line x1="372.6" y1="411.7" x2="372.6" y2="430.4" stroke="#b8c0cc" stroke-width="1.1" opacity="1"/>
<line x1="374.9" y1="411.7" x2="374.9" y2="430.4" stroke="#a0aaba" stroke-width="1.9" opacity="1"/>
<line x1="377.4" y1="411.7" x2="377.4" y2="430.4" stroke="#b0b8c8" stroke-width="1.2" opacity="1"/>
<line x1="382.6" y1="411.7" x2="382.6" y2="430.4" stroke="#a480a8" stroke-width="1.3" opacity="1"/>
<line x1="390.2" y1="411.7" x2="390.2" y2="430.4" stroke="#ccd2dc" stroke-width="1.3" opacity="1"/>
<line x1="405.5" y1="411.7" x2="405.5" y2="430.4" stroke="#e4a0c4" stroke-width="1.1" opacity="1"/>
<line x1="418.4" y1="411.7" x2="418.4" y2="430.4" stroke="#e4a0c4" stroke-width="1.1" opacity="1"/>
<line x1="420.6" y1="411.7" x2="420.6" y2="430.4" stroke="#e4a0c4" stroke-width="1.1" opacity="1"/>
<line x1="465.9" y1="411.7" x2="465.9" y2="430.4" stroke="#ecb8d2" stroke-width="1.5" opacity="1"/>
<line x1="477.2" y1="411.7" x2="477.2" y2="430.4" stroke="#a8b0c2" stroke-width="1.1" opacity="1"/>
<line x1="498.5" y1="411.7" x2="498.5" y2="430.4" stroke="#a0aabc" stroke-width="1.1" opacity="1"/>
<line x1="298.4" y1="239.8" x2="298.4" y2="408.9" stroke="#1212ee" stroke-width="1.6" stroke-dasharray="2 2.9 8.8 3.6"/>
<path d="M298.4 244.2 C300 242.7 303.4 242.4 307.4 242.4 C313.4 242.4 319.4 244.4 325.6 246.8" fill="none" stroke="#1212ee" stroke-width="1.25"/>
<path d="M335.4 252.1 L326.3 244.5 L324.1 248.6 Z" fill="#1212ee"/>
<text x="335.6" y="254.5" font-family="'Liberation Serif','Times New Roman',serif" font-size="9.5" font-style="italic" font-weight="bold" fill="#1212ee" stroke="#1212ee" stroke-width="0.15">Zero Line</text>
<line x1="503.4" y1="235.5" x2="503.4" y2="433.1" stroke="#6a6a6a" stroke-width="1.0"/>
<line x1="208.7" y1="235.5" x2="503.9" y2="235.5" stroke="#777777" stroke-width="1.0"/>
<line x1="209.2" y1="234.9" x2="209.2" y2="433.1" stroke="#909090" stroke-width="1.1"/>
<line x1="208.7" y1="432.6" x2="504" y2="432.6" stroke="#a2a2a2" stroke-width="1.6"/>
<line x1="206.2" y1="409.5" x2="209.2" y2="409.5" stroke="#333" stroke-width="0.9"/>
<text x="204.6" y="412.4" text-anchor="end" font-family="'Liberation Serif','Times New Roman',serif" font-size="8.6" font-style="italic" fill="#111" stroke="#111" stroke-width="0.1">0.00</text>
<line x1="207.4" y1="399.82" x2="209.2" y2="399.82" stroke="#333" stroke-width="0.8"/>
<line x1="206.2" y1="390.14" x2="209.2" y2="390.14" stroke="#333" stroke-width="0.9"/>
<text x="204.6" y="393.04" text-anchor="end" font-family="'Liberation Serif','Times New Roman',serif" font-size="8.6" font-style="italic" fill="#111" stroke="#111" stroke-width="0.1">0.01</text>
<line x1="207.4" y1="380.46" x2="209.2" y2="380.46" stroke="#333" stroke-width="0.8"/>
<line x1="206.2" y1="370.78" x2="209.2" y2="370.78" stroke="#333" stroke-width="0.9"/>
<text x="204.6" y="373.68" text-anchor="end" font-family="'Liberation Serif','Times New Roman',serif" font-size="8.6" font-style="italic" fill="#111" stroke="#111" stroke-width="0.1">0.02</text>
<line x1="207.4" y1="361.1" x2="209.2" y2="361.1" stroke="#333" stroke-width="0.8"/>
<line x1="206.2" y1="351.42" x2="209.2" y2="351.42" stroke="#333" stroke-width="0.9"/>
<text x="204.6" y="354.32" text-anchor="end" font-family="'Liberation Serif','Times New Roman',serif" font-size="8.6" font-style="italic" fill="#111" stroke="#111" stroke-width="0.1">0.03</text>
<line x1="207.4" y1="341.74" x2="209.2" y2="341.74" stroke="#333" stroke-width="0.8"/>
<line x1="206.2" y1="332.06" x2="209.2" y2="332.06" stroke="#333" stroke-width="0.9"/>
<text x="204.6" y="334.96" text-anchor="end" font-family="'Liberation Serif','Times New Roman',serif" font-size="8.6" font-style="italic" fill="#111" stroke="#111" stroke-width="0.1">0.04</text>
<line x1="207.4" y1="322.38" x2="209.2" y2="322.38" stroke="#333" stroke-width="0.8"/>
<line x1="206.2" y1="312.7" x2="209.2" y2="312.7" stroke="#333" stroke-width="0.9"/>
<text x="204.6" y="315.6" text-anchor="end" font-family="'Liberation Serif','Times New Roman',serif" font-size="8.6" font-style="italic" fill="#111" stroke="#111" stroke-width="0.1">0.05</text>
<line x1="207.4" y1="303.02" x2="209.2" y2="303.02" stroke="#333" stroke-width="0.8"/>
<line x1="206.2" y1="293.34" x2="209.2" y2="293.34" stroke="#333" stroke-width="0.9"/>
<text x="204.6" y="296.24" text-anchor="end" font-family="'Liberation Serif','Times New Roman',serif" font-size="8.6" font-style="italic" fill="#111" stroke="#111" stroke-width="0.1">0.06</text>
<line x1="207.4" y1="283.66" x2="209.2" y2="283.66" stroke="#333" stroke-width="0.8"/>
<line x1="206.2" y1="273.98" x2="209.2" y2="273.98" stroke="#333" stroke-width="0.9"/>
<text x="204.6" y="276.88" text-anchor="end" font-family="'Liberation Serif','Times New Roman',serif" font-size="8.6" font-style="italic" fill="#111" stroke="#111" stroke-width="0.1">0.07</text>
<line x1="207.4" y1="264.3" x2="209.2" y2="264.3" stroke="#333" stroke-width="0.8"/>
<line x1="206.2" y1="254.62" x2="209.2" y2="254.62" stroke="#333" stroke-width="0.9"/>
<text x="204.6" y="257.52" text-anchor="end" font-family="'Liberation Serif','Times New Roman',serif" font-size="8.6" font-style="italic" fill="#111" stroke="#111" stroke-width="0.1">0.08</text>
<line x1="207.4" y1="244.94" x2="209.2" y2="244.94" stroke="#333" stroke-width="0.8"/>
<line x1="206.2" y1="235.26" x2="209.2" y2="235.26" stroke="#333" stroke-width="0.9"/>
<text x="204.6" y="238.16" text-anchor="end" font-family="'Liberation Serif','Times New Roman',serif" font-size="8.6" font-style="italic" fill="#111" stroke="#111" stroke-width="0.1">0.09</text>
<line x1="209.2" y1="432.6" x2="209.2" y2="435.5" stroke="#333" stroke-width="0.9"/>
<text x="209.1" y="444.1" text-anchor="middle" font-family="'Liberation Serif','Times New Roman',serif" font-size="8.6" font-style="italic" fill="#111" stroke="#111" stroke-width="0.1">-15</text>
<line x1="223.91" y1="432.6" x2="223.91" y2="434.2" stroke="#333" stroke-width="0.8"/>
<line x1="238.62" y1="432.6" x2="238.62" y2="435.5" stroke="#333" stroke-width="0.9"/>
<text x="238.52" y="444.1" text-anchor="middle" font-family="'Liberation Serif','Times New Roman',serif" font-size="8.6" font-style="italic" fill="#111" stroke="#111" stroke-width="0.1">-10</text>
<line x1="253.33" y1="432.6" x2="253.33" y2="434.2" stroke="#333" stroke-width="0.8"/>
<line x1="268.04" y1="432.6" x2="268.04" y2="435.5" stroke="#333" stroke-width="0.9"/>
<text x="267.94" y="444.1" text-anchor="middle" font-family="'Liberation Serif','Times New Roman',serif" font-size="8.6" font-style="italic" fill="#111" stroke="#111" stroke-width="0.1">-5</text>
<line x1="282.75" y1="432.6" x2="282.75" y2="434.2" stroke="#333" stroke-width="0.8"/>
<line x1="297.46" y1="432.6" x2="297.46" y2="435.5" stroke="#333" stroke-width="0.9"/>
<text x="297.46" y="444.1" text-anchor="middle" font-family="'Liberation Serif','Times New Roman',serif" font-size="8.6" font-style="italic" fill="#111" stroke="#111" stroke-width="0.1">0</text>
<line x1="312.17" y1="432.6" x2="312.17" y2="434.2" stroke="#333" stroke-width="0.8"/>
<line x1="326.88" y1="432.6" x2="326.88" y2="435.5" stroke="#333" stroke-width="0.9"/>
<text x="326.88" y="444.1" text-anchor="middle" font-family="'Liberation Serif','Times New Roman',serif" font-size="8.6" font-style="italic" fill="#111" stroke="#111" stroke-width="0.1">5</text>
<line x1="341.59" y1="432.6" x2="341.59" y2="434.2" stroke="#333" stroke-width="0.8"/>
<line x1="356.3" y1="432.6" x2="356.3" y2="435.5" stroke="#333" stroke-width="0.9"/>
<text x="356.3" y="444.1" text-anchor="middle" font-family="'Liberation Serif','Times New Roman',serif" font-size="8.6" font-style="italic" fill="#111" stroke="#111" stroke-width="0.1">10</text>
<line x1="371.01" y1="432.6" x2="371.01" y2="434.2" stroke="#333" stroke-width="0.8"/>
<line x1="385.72" y1="432.6" x2="385.72" y2="435.5" stroke="#333" stroke-width="0.9"/>
<text x="385.72" y="444.1" text-anchor="middle" font-family="'Liberation Serif','Times New Roman',serif" font-size="8.6" font-style="italic" fill="#111" stroke="#111" stroke-width="0.1">15</text>
<line x1="400.43" y1="432.6" x2="400.43" y2="434.2" stroke="#333" stroke-width="0.8"/>
<line x1="415.14" y1="432.6" x2="415.14" y2="435.5" stroke="#333" stroke-width="0.9"/>
<text x="415.14" y="444.1" text-anchor="middle" font-family="'Liberation Serif','Times New Roman',serif" font-size="8.6" font-style="italic" fill="#111" stroke="#111" stroke-width="0.1">20</text>
<line x1="429.85" y1="432.6" x2="429.85" y2="434.2" stroke="#333" stroke-width="0.8"/>
<line x1="444.56" y1="432.6" x2="444.56" y2="435.5" stroke="#333" stroke-width="0.9"/>
<text x="444.56" y="444.1" text-anchor="middle" font-family="'Liberation Serif','Times New Roman',serif" font-size="8.6" font-style="italic" fill="#111" stroke="#111" stroke-width="0.1">25</text>
<line x1="459.27" y1="432.6" x2="459.27" y2="434.2" stroke="#333" stroke-width="0.8"/>
<line x1="473.98" y1="432.6" x2="473.98" y2="435.5" stroke="#333" stroke-width="0.9"/>
<text x="473.98" y="444.1" text-anchor="middle" font-family="'Liberation Serif','Times New Roman',serif" font-size="8.6" font-style="italic" fill="#111" stroke="#111" stroke-width="0.1">30</text>
<line x1="488.69" y1="432.6" x2="488.69" y2="434.2" stroke="#333" stroke-width="0.8"/>
<line x1="503.4" y1="432.6" x2="503.4" y2="435.5" stroke="#333" stroke-width="0.9"/>
<text x="503.4" y="444.1" text-anchor="middle" font-family="'Liberation Serif','Times New Roman',serif" font-size="8.6" font-style="italic" fill="#111" stroke="#111" stroke-width="0.1">35</text>
<text x="355.9" y="452.05" text-anchor="middle" font-family="'Liberation Serif','Times New Roman',serif" font-size="10" font-style="italic" fill="#111" stroke="#111" stroke-width="0.12">Error (%)</text>
<text transform="translate(182.2 322.1) rotate(-90)" text-anchor="middle" font-family="'Liberation Serif','Times New Roman',serif" font-size="10" font-style="italic" fill="#111">Frequency</text>
<path d="M266.5 243.4 h3.2 v29.2 h-55.4 v-3.2 h52.2 Z" fill="#d8d8d8"/>
<rect x="211.1" y="240.2" width="55.4" height="29.2" fill="rgba(255,255,255,0.78)" stroke="#a9a9a9" stroke-width="0.9"/>
<rect x="213.9" y="242.8" width="24.0" height="11.0" fill="#b9c9e4" fill-opacity="0.9" stroke="#6a82ae" stroke-width="1.4"/>
<rect x="213.9" y="256.4" width="24.0" height="11.0" fill="#ffb9dc" fill-opacity="0.9" stroke="#e0629c" stroke-width="1.4"/>
<text x="240.7" y="251.6" font-family="'Liberation Serif','Times New Roman',serif" font-size="11.3" font-style="italic" fill="#111" stroke="#111" stroke-width="0.25">Train</text>
<text x="240.7" y="265.5" font-family="'Liberation Serif','Times New Roman',serif" font-size="11.3" font-style="italic" fill="#111" stroke="#111" stroke-width="0.25">Test</text>
<path d="M250.8 277.5 h3.2 v13.6 h-28.2 v-3.2 h25 Z" fill="#d8d8d8"/>
<rect x="222.6" y="274.3" width="28.2" height="13.6" fill="rgba(255,255,255,0.8)" stroke="#a9a9a9" stroke-width="0.9"/>
<text x="236.4" y="284.4" text-anchor="middle" font-family="'Liberation Serif','Times New Roman',serif" font-size="9.1" fill="#111" stroke="#111" stroke-width="0.16">ANAS</text>
</g>
</svg>
</body>
</html>
